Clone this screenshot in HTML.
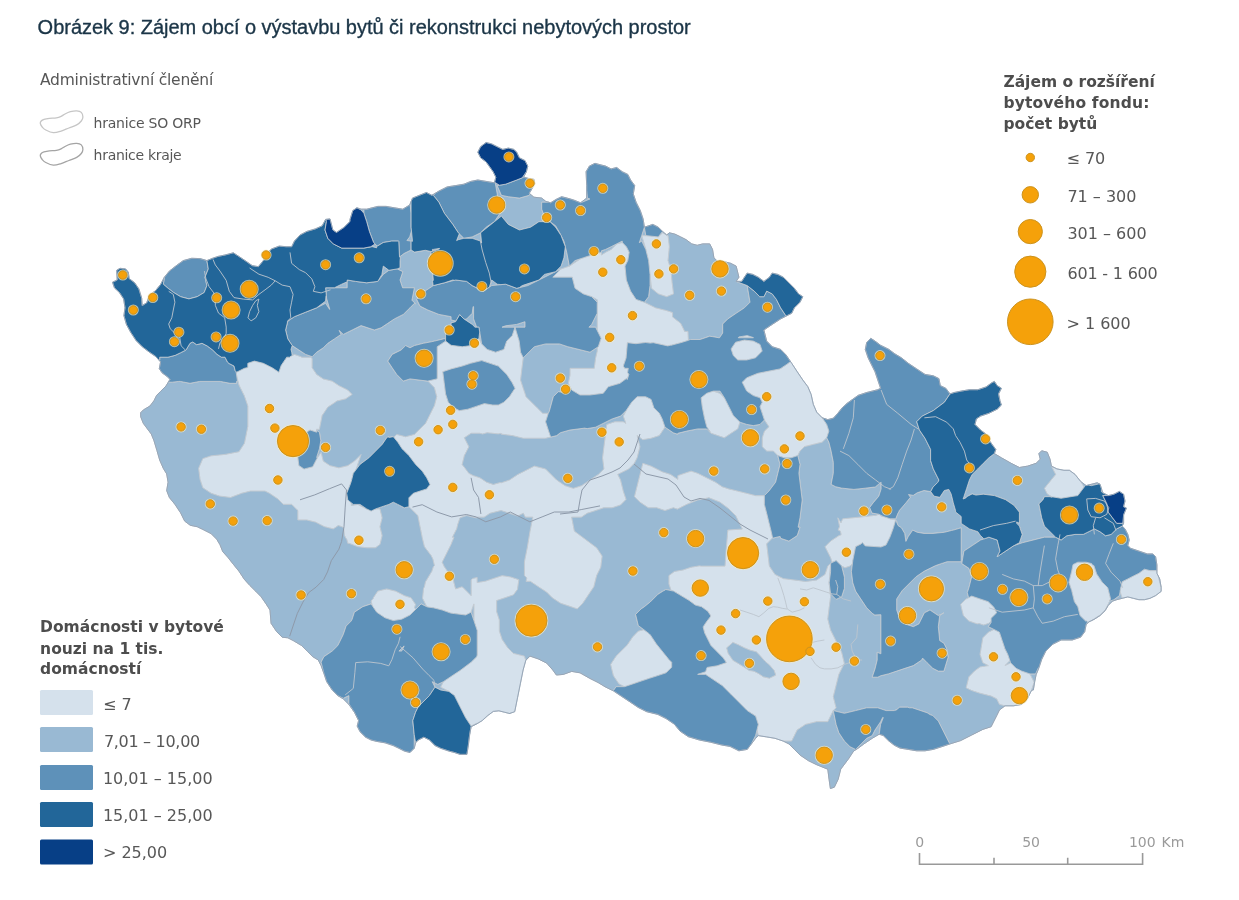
<!DOCTYPE html>
<html><head><meta charset="utf-8">
<style>
html,body{margin:0;padding:0;background:#fff;}
body{width:1239px;height:900px;position:relative;overflow:hidden;}
svg{position:absolute;left:0;top:0;}
.ti{font-family:"Liberation Sans",Arial,sans-serif;font-size:21px;fill:#1b3547;stroke:#1b3547;stroke-width:0.35px;}
.lg{font-family:"DejaVu Sans",Verdana,sans-serif;fill:#575757;}
.b{font-weight:bold;fill:#4d4d4d;}
.sc{font-family:"DejaVu Sans",Verdana,sans-serif;font-size:14px;fill:#9a9a9a;}
</style></head><body>
<svg width="1239" height="900" viewBox="0 0 1239 900">
<g id="map" stroke="#c6ccd3" stroke-width="0.9" stroke-opacity="0.9" stroke-linejoin="round">
<path d="M112.5,282.2 117.2,280.0 116.7,270.3 120.0,268.3 125.6,268.9 128.3,272.2 129.2,278.6 134.7,282.8 138.9,288.9 141.7,298.1 142.2,305.6 146.7,302.8 149.4,295.3 155.6,290.6 160.6,284.4 164.4,277.2 169.4,271.1 176.4,265.6 183.3,260.6 191.7,258.3 200.0,258.6 206.9,260.6 212.5,258.3 218.1,256.4 225.0,255.0 233.3,252.8 238.9,256.4 245.8,261.1 252.2,265.6 258.3,266.7 263.3,260.6 266.7,253.6 271.7,248.9 279.2,246.1 286.1,246.7 291.7,246.7 294.4,241.1 300.0,235.0 306.9,231.4 315.3,228.9 322.2,225.8 325.6,219.4 330.0,218.9 332.9,230.0 336.5,232.4 343.8,227.5 349.9,221.5 350.0,219.4 350.0,219.4 352.8,210.6 356.9,207.8 361.1,209.2 366.7,209.2 372.2,207.8 377.8,206.4 386.1,206.4 394.4,207.8 402.8,209.2 409.7,205.0 412.5,198.1 419.4,195.3 426.4,192.5 431.9,195.3 438.9,191.1 447.2,186.9 455.6,185.6 463.9,184.2 470.8,181.4 477.8,180.0 486.1,181.4 494.4,182.8 495.8,177.2 493.1,171.7 486.1,161.9 480.6,157.8 477.8,152.2 480.6,146.7 486.1,142.5 491.7,143.9 497.2,146.7 502.8,149.4 508.3,148.1 513.9,149.4 516.7,152.2 519.4,157.8 525.0,160.6 527.8,166.1 526.4,171.7 523.6,177.2 529.2,178.6 533.9,179.4 534.7,183.3 531.9,188.9 529.2,193.3 533.9,197.2 541.7,198.1 545.8,201.4 550.6,202.8 556.1,199.4 561.7,196.7 567.2,198.1 573.6,200.0 580.6,202.8 586.7,198.1 586.7,185.6 586.1,171.7 589.4,166.1 595.0,163.3 600.0,164.7 600.0,164.7 605.6,166.1 611.1,168.9 616.7,167.5 622.2,171.7 627.8,174.4 630.6,180.0 634.7,185.6 633.3,193.9 636.1,202.2 640.3,210.6 643.1,218.9 644.4,227.2 648.6,225.8 652.8,224.4 658.3,227.2 662.5,231.4 666.7,235.0 669.4,232.8 675.0,234.2 680.6,236.9 686.1,239.7 691.7,243.9 697.2,245.3 702.8,243.9 709.7,243.9 712.5,249.4 713.9,257.8 718.1,261.9 725.0,261.9 730.6,263.3 736.1,266.1 738.9,277.2 736.1,281.4 741.7,281.4 744.4,277.2 747.2,273.1 752.8,274.4 758.3,277.2 763.9,281.4 769.4,277.2 772.2,273.1 777.8,274.4 783.3,277.2 788.9,282.8 794.4,288.3 798.6,293.9 802.8,296.7 800.0,302.2 794.4,307.8 791.7,313.3 786.1,316.1 780.6,318.9 772.2,324.4 763.9,330.0 766.7,341.1 772.2,346.7 780.6,349.4 786.1,355.0 791.7,363.3 797.2,371.7 802.8,380.0 807.8,386.7 811.1,394.4 813.3,404.4 816.7,412.2 822.2,417.8 827.8,419.6 833.3,418.2 837.8,413.3 842.2,407.8 847.1,403.3 858.3,395.3 866.7,392.5 877.8,389.7 880.6,388.3 877.8,380.0 875.0,371.7 872.2,366.1 868.1,357.8 865.3,349.4 866.7,342.5 870.8,338.3 875.0,341.1 880.6,345.3 888.9,349.4 894.4,353.6 901.4,357.8 908.3,363.3 916.7,368.9 925.0,374.4 933.3,375.8 938.9,378.6 940.3,385.6 945.8,388.3 950.0,393.9 954.2,392.5 961.1,391.1 969.4,389.7 977.8,389.7 986.1,386.9 991.7,382.8 994.4,381.4 997.2,385.6 1001.4,388.3 998.6,393.9 1000.0,400.8 1001.4,405.0 997.2,409.2 988.9,413.3 980.6,416.1 976.4,418.9 975.0,424.4 980.6,430.0 986.1,434.2 988.9,439.7 991.7,443.9 995.8,449.4 994.4,453.6 1001.4,457.8 1011.1,463.3 1019.4,467.5 1027.8,466.1 1036.1,463.3 1040.3,459.2 1038.9,453.6 1041.7,450.8 1047.2,452.2 1050.0,459.2 1051.4,466.1 1056.9,468.9 1063.9,470.3 1069.4,470.3 1075.0,474.4 1080.6,481.4 1086.1,485.6 1091.7,484.2 1097.2,482.8 1100.0,484.2 1100.0,484.2 1102.8,492.8 1108.3,495.6 1113.9,494.2 1119.4,491.4 1123.6,494.2 1125.0,501.1 1123.6,506.7 1126.4,508.1 1123.6,515.0 1123.6,523.3 1122.2,526.1 1125.0,528.9 1127.8,534.4 1129.2,540.0 1127.8,545.6 1130.6,548.3 1138.9,551.1 1147.2,553.9 1152.8,553.9 1155.6,556.7 1156.9,565.0 1156.9,573.3 1159.7,578.9 1161.1,587.2 1161.1,591.4 1155.6,595.6 1150.0,598.3 1144.4,599.7 1138.9,599.7 1133.3,598.3 1127.8,596.9 1122.2,598.3 1116.7,599.7 1112.5,601.1 1108.3,605.3 1105.0,610.8 1100.0,615.6 1094.4,619.2 1088.9,621.9 1086.1,624.7 1084.7,631.7 1080.6,637.2 1072.2,640.0 1061.1,640.0 1052.8,644.2 1045.8,651.1 1041.7,659.4 1038.9,667.8 1036.1,674.7 1034.7,681.7 1033.3,690.0 1032.8,690.0 1031.4,690.6 1027.2,698.9 1021.7,704.4 1013.3,705.8 1005.0,705.8 999.4,710.0 996.7,715.6 993.9,721.1 991.1,726.7 982.8,729.4 971.7,735.0 960.6,740.6 950.0,743.9 950.0,743.9 941.7,746.7 933.3,749.4 925.0,750.8 916.7,750.8 908.3,749.4 900.0,748.1 894.4,745.3 888.9,741.1 883.3,735.6 879.2,734.2 872.2,738.3 863.9,743.9 858.3,748.1 853.6,751.1 848.5,758.8 840.7,769.2 838.1,779.4 834.3,787.2 830.4,788.5 829.1,779.4 827.8,769.2 816.7,764.7 808.3,760.6 800.0,755.0 794.4,749.4 788.9,743.9 783.3,741.1 775.0,738.3 766.7,736.9 758.3,735.6 755.6,738.3 747.2,749.4 738.9,750.8 730.0,746.4 730.0,746.4 721.7,745.0 710.6,742.2 699.4,740.0 688.3,736.7 680.0,731.1 674.4,724.2 666.1,718.6 657.8,714.4 646.7,711.7 638.3,707.5 630.0,701.9 621.7,696.4 613.3,690.8 605.0,686.7 598.1,682.5 589.7,678.3 580.0,672.8 571.7,671.4 563.3,674.4 556.4,675.0 552.8,670.0 546.7,663.1 538.3,658.9 530.0,656.1 525.8,660.3 523.1,670.0 520.3,683.9 517.5,697.8 514.7,711.7 510.0,713.3 510.0,713.6 504.4,712.2 498.9,710.8 493.3,711.4 487.8,715.6 482.2,720.6 476.7,723.9 471.1,726.7 469.7,734.4 468.3,745.6 466.9,754.4 460.0,754.4 454.4,752.5 448.9,751.1 440.6,748.3 435.0,745.6 429.4,740.0 423.9,737.2 418.3,740.0 415.6,742.8 414.2,748.3 410.0,752.5 404.4,751.1 398.9,748.3 393.3,745.6 385.0,742.8 376.7,741.4 371.1,740.0 365.6,737.2 360.0,731.7 357.2,726.1 358.6,720.6 354.4,712.2 348.9,704.4 343.3,698.9 337.8,695.6 332.2,690.0 326.7,681.7 323.9,673.3 321.1,665.6 318.3,660.0 312.8,656.7 307.2,651.1 301.7,645.6 293.3,640.6 287.8,637.8 282.2,637.2 276.7,631.7 271.1,623.3 270.0,610.0 270.0,610.0 266.1,603.9 261.1,596.7 255.6,591.1 250.0,585.6 244.4,579.4 238.9,571.1 233.3,564.2 227.8,557.2 222.8,551.7 220.0,544.7 216.7,539.2 211.1,533.6 202.8,529.4 197.2,526.7 190.3,525.3 184.7,521.1 180.6,512.8 175.0,504.4 169.4,497.5 166.7,490.6 168.1,482.2 166.7,473.9 163.3,468.3 159.7,460.0 156.9,450.3 154.0,440.7 151.3,434.0 147.3,428.7 143.3,423.3 140.7,416.7 140.7,412.7 143.3,410.0 150.0,406.0 154.0,400.7 156.7,395.3 160.7,391.3 166.0,386.0 170.0,379.3 167.3,376.7 162.0,372.7 159.3,368.7 160.6,361.9 155.6,356.4 149.4,352.2 142.2,346.7 136.1,340.6 130.6,332.2 126.4,324.4 123.9,315.6 125.0,307.8 123.6,298.9 119.4,292.5 114.4,287.8Z" fill="#99b9d3"/>
<path d="M1144.4,599.7 1150.0,598.3 1155.6,595.6 1161.1,591.4 1161.1,587.2 1158.9,578.9 1158.2,575.8 1156.9,573.3 1156.9,570.6 1150.0,570.6 1144.4,569.2 1138.9,573.3 1133.3,576.1 1127.8,578.9 1122.2,581.7 1120.0,591.4 1122.2,598.3 1127.8,596.9 1133.3,598.3 1138.9,599.7ZM1107.8,587.8 1102.2,582.2 1096.7,573.9 1093.9,565.6 1092.1,564.7 1091.7,563.6 1088.3,562.8 1086.1,562.2 1077.8,562.2 1073.0,564.6 1071.7,571.1 1068.9,582.2 1071.7,590.6 1074.4,601.7 1077.8,606.7 1080.0,615.6 1085.6,621.1 1086.4,620.9 1087.5,621.9 1091.7,620.6 1098.3,616.1 1099.4,615.6 1100.0,615.0 1105.0,610.0 1105.6,609.4 1109.7,601.1 1109.6,600.8 1110.6,598.9ZM1051.4,466.1 1055.6,474.4 1044.4,488.3 1047.2,493.9 1052.0,497.1 1052.8,496.9 1061.1,498.3 1069.4,496.9 1077.8,495.6 1084.0,487.2 1080.6,481.4 1075.0,474.4 1069.4,470.3 1063.9,470.3 1056.9,468.9ZM1031.4,690.6 1034.2,682.2 1030.0,673.9 1021.7,671.1 1016.1,668.3 1010.6,662.8 1005.5,665.3 1005.4,665.2 1009.9,660.7 1007.8,654.4 1005.0,648.9 1002.2,640.6 999.4,632.2 993.9,629.4 988.3,632.2 982.8,637.8 981.4,646.1 980.0,654.4 982.8,662.8 988.3,665.6 980.0,666.9 974.4,671.1 968.9,676.7 966.1,687.8 971.7,690.6 980.0,693.3 991.1,696.1 996.7,698.9 999.4,704.4 1005.0,705.8 1013.3,705.8 1021.7,704.4 1027.2,698.9ZM979.1,623.6 983.6,625.1 988.9,623.3 991.1,621.1 991.1,618.3 996.7,612.8 995.6,610.7 993.9,607.2 988.3,601.7 980.0,598.9 971.7,596.1 966.1,598.9 960.6,604.4 963.3,615.6 968.9,621.1 977.2,623.9ZM839.5,526.5 838.1,530.1 840.4,531.2 841.1,534.8 838.9,535.6 830.6,541.1 825.0,546.7 830.6,557.8 832.1,562.5 836.1,560.6 841.7,566.1 845.0,567.8 850.0,566.1 852.4,563.7 852.8,560.6 855.6,546.7 861.1,543.9 862.4,542.6 865.2,545.9 881.0,547.0 886.0,545.0 890.1,536.8 893.4,527.8 895.7,519.9 890.1,518.8 883.3,516.5 881.1,516.2 881.1,515.4 878.8,514.3 875.6,515.5 874.2,515.4 865.2,516.5 842.6,518.8 841.0,522.7 837.8,517.8ZM656.7,507.8 665.0,510.6 673.3,507.8 677.8,509.3 677.8,508.9 686.7,504.4 697.8,500.0 708.9,497.8 720.0,502.2 728.9,508.9 735.6,515.6 740.0,524.4 742.3,529.0 727.8,530.0 726.4,546.7 725.0,566.1 701.1,566.1 699.4,565.8 697.8,566.1 697.2,566.1 697.2,566.2 691.1,567.2 682.8,570.0 674.4,571.4 668.9,575.6 668.9,583.9 671.1,590.6 673.5,591.1 689.1,600.4 695.3,605.1 701.5,606.7 707.8,611.3 710.9,616.0 706.2,622.2 703.1,626.9 704.7,633.1 710.9,645.5 723.3,658.0 726.4,662.6 717.1,665.8 707.8,667.3 707.0,667.5 705.6,671.7 697.2,674.4 705.6,674.4 713.9,680.0 722.2,685.6 730.6,693.9 738.9,702.2 747.2,710.6 755.6,716.1 758.3,724.4 756.9,730.0 758.3,735.6 766.7,736.9 775.0,738.3 783.3,741.1 791.7,741.1 797.2,730.0 805.6,724.4 816.7,721.7 827.8,721.7 833.3,710.6 836.1,707.8 833.3,696.7 836.1,685.6 838.9,674.4 844.4,663.3 841.7,652.2 830.6,630.0 827.8,618.9 829.2,607.8 830.6,596.7 829.2,582.8 830.6,563.3 827.8,566.1 825.0,574.4 816.7,580.0 805.6,581.4 783.3,578.6 775.0,574.4 769.4,566.1 766.7,543.9 772.2,538.3 772.7,538.2 771.1,531.1 768.9,522.2 766.7,513.3 764.4,504.4 764.4,495.6 755.6,495.6 746.7,493.3 737.8,491.1 728.9,488.9 722.2,486.7 715.6,482.2 697.8,473.3 691.1,471.1 684.4,473.3 677.8,475.6 677.8,479.3 670.6,474.4 662.2,471.7 651.1,466.1 642.8,463.3 637.2,485.6 634.4,496.7 640.0,502.2 648.3,507.8ZM769.4,678.2 763.2,676.7 758.5,673.5 753.9,671.2 749.2,670.4 744.5,667.3 738.3,663.4 732.9,660.3 728.2,653.3 726.7,647.9 732.9,642.4 738.3,644.8 744.5,647.9 750.0,650.2 756.2,651.8 760.1,655.7 764.8,661.1 769.4,665.0 774.1,670.4 775.7,675.1ZM762.2,402.2 760.0,406.7 762.2,413.3 764.4,420.0 768.9,426.7 764.4,431.1 762.2,437.8 762.2,446.7 766.7,451.1 773.3,451.1 777.8,455.6 784.4,457.8 791.1,457.8 797.8,455.6 800.0,451.1 804.4,446.7 813.3,444.4 822.2,442.2 826.7,437.8 828.9,431.1 826.7,424.4 822.2,417.8 816.7,412.2 813.3,404.4 811.1,394.4 807.8,386.7 802.8,380.0 797.2,371.7 791.7,363.3 790.5,361.6 786.7,364.4 780.0,368.9 768.9,371.1 757.8,373.3 746.7,377.8 742.2,382.2 746.7,391.1 753.3,395.6 760.0,397.8ZM737.8,360.0 746.7,360.0 755.6,357.8 762.2,351.1 760.0,344.4 753.3,341.1 744.4,340.0 735.6,342.2 731.1,348.9 733.3,355.6ZM747.2,335.6 738.9,336.9 738.2,337.8 753.9,337.8ZM706.7,426.7 711.1,433.3 717.8,435.6 724.4,437.8 731.1,433.3 737.8,428.9 740.0,422.2 733.3,415.6 728.9,406.7 724.4,397.8 720.0,393.3 713.3,391.1 706.7,393.3 701.1,397.8 702.2,406.7 704.4,417.8ZM636.1,299.4 630.6,291.1 626.4,280.0 625.0,266.1 627.8,260.6 629.2,252.2 626.4,246.7 622.2,242.5 616.7,243.9 611.1,249.4 605.6,252.2 601.4,255.0 601.4,252.2 591.7,255.0 583.3,257.8 580.6,258.7 577.8,260.6 569.4,266.1 561.1,268.9 552.8,277.2 572.2,277.2 575.0,288.3 583.3,293.9 591.7,296.7 597.2,299.8 597.2,330.6 601.1,338.3 598.3,346.7 597.2,347.4 597.2,351.1 595.6,357.8 594.2,368.3 570.0,368.3 570.0,375.0 568.3,383.3 571.7,390.0 580.0,395.0 590.0,395.0 603.3,393.3 608.3,386.7 620.0,383.3 626.7,378.3 627.2,379.6 628.9,374.4 627.6,372.6 628.3,368.3 624.8,368.3 623.3,366.1 626.1,358.0 627.4,342.7 635.8,343.7 645.6,342.5 650.1,343.1 653.3,342.7 667.8,345.9 671.0,345.1 671.0,345.3 680.7,342.7 688.5,340.3 688.0,331.4 684.7,331.4 682.6,327.1 680.7,323.3 672.6,316.9 672.6,312.5 666.7,310.6 655.6,307.8 644.4,302.2ZM666.3,234.7 662.5,232.8 658.3,236.9 645.8,235.6 641.7,235.6 645.8,249.4 648.6,260.6 651.4,288.3 658.3,293.9 666.7,296.7 673.6,293.9 672.2,282.8 670.8,268.9 668.1,260.6 669.4,246.7 668.1,235.6 666.8,234.9 666.7,235.0ZM616.1,656.1 610.6,664.4 613.3,675.6 618.9,683.9 624.4,686.7 632.8,683.9 641.1,681.1 649.4,678.3 657.8,675.6 666.1,672.8 671.7,667.2 671.7,662.3 668.9,659.5 656.4,644.0 650.2,634.7 649.4,633.9 643.9,629.7 638.3,631.1 632.8,636.7 627.2,645.0ZM475.6,517.7 477.2,518.0 477.2,517.2 484.2,517.2 490.0,513.3 501.1,510.6 509.4,513.3 517.8,516.1 523.3,513.3 525.3,517.2 532.8,517.2 530.1,530.6 530.0,531.1 527.2,547.8 524.4,561.7 524.4,575.6 526.8,577.9 526.1,581.4 530.4,581.4 538.3,586.7 546.7,592.2 552.2,597.8 560.6,603.3 568.9,606.1 577.2,608.9 582.8,603.3 593.9,586.7 596.7,575.6 600.8,567.2 602.2,556.1 596.7,547.8 574.4,531.1 572.8,522.9 571.7,517.2 581.4,517.2 587.2,513.3 595.6,510.6 603.9,507.8 612.2,507.8 620.6,505.0 626.1,499.4 623.3,491.1 620.6,480.0 617.8,474.4 623.3,471.7 628.9,468.9 634.4,463.3 637.2,457.8 640.0,446.7 637.2,435.6 642.8,439.7 651.1,438.3 659.4,435.6 665.0,427.2 662.2,418.9 659.4,413.3 653.9,407.8 651.1,399.4 645.6,396.7 637.2,396.7 631.7,402.2 626.1,410.6 623.3,416.1 625.7,423.3 623.3,421.7 615.0,421.7 606.7,424.4 605.3,435.6 603.9,446.7 602.5,457.8 603.9,468.9 598.3,474.4 581.7,485.6 573.3,488.3 565.0,485.6 556.7,480.0 545.6,468.9 534.4,466.1 517.8,474.4 509.4,480.0 501.1,482.8 500.2,482.5 493.3,484.4 486.7,482.2 480.0,477.8 473.3,475.6 468.9,473.3 466.1,469.6 462.2,464.4 464.4,455.6 468.9,446.7 464.4,437.8 471.1,433.3 480.0,433.3 482.5,434.0 487.2,432.8 498.2,433.9 501.1,433.3 501.1,434.2 512.2,435.6 523.3,438.3 545.6,438.3 550.7,437.1 548.3,430.0 545.6,421.7 548.3,413.3 542.8,413.3 537.2,407.8 526.1,396.7 523.3,388.3 520.6,380.0 521.9,368.9 523.3,357.8 520.6,352.2 519.2,341.1 515.0,327.2 512.2,335.6 506.7,341.1 503.9,349.4 495.6,352.2 487.2,349.4 481.7,343.9 478.9,338.3 473.3,345.3 462.2,346.7 451.1,345.3 445.6,341.1 437.2,346.7 437.2,378.3 436.7,378.9 427.8,381.1 434.4,387.8 436.7,396.7 434.4,405.6 425.6,423.3 414.4,434.4 405.6,436.7 396.7,434.4 393.8,437.3 397.8,442.2 402.2,448.9 403.9,450.6 408.9,455.6 415.6,464.4 422.2,471.1 426.7,477.8 430.0,484.4 428.1,486.9 426.7,488.9 420.0,491.1 413.3,493.3 408.9,497.8 408.9,506.7 417.8,515.6 420.0,526.7 422.1,537.2 422.2,537.8 424.4,546.7 431.1,555.6 432.8,558.9 434.4,565.6 433.3,566.7 431.8,571.2 425.4,581.9 424.4,586.7 423.5,588.6 422.5,598.3 426.7,606.7 428.0,607.1 433.3,607.8 442.2,610.0 450.6,613.1 454.4,613.6 465.6,615.0 471.1,612.2 473.7,604.4 473.9,604.4 473.9,620.6 476.7,628.9 477.2,630.6 477.2,655.0 476.7,656.7 471.1,662.2 460.0,670.6 451.7,676.1 443.3,681.7 440.6,687.2 448.9,691.4 454.4,695.6 460.0,706.7 465.6,717.8 471.1,726.1 477.2,723.1 477.2,723.6 482.2,720.6 487.8,715.0 488.6,714.4 489.7,714.1 493.3,711.4 498.9,710.8 504.4,712.2 510.0,713.6 510.0,713.3 514.7,711.7 517.5,697.8 520.3,683.9 523.1,670.0 525.8,660.3 524.4,656.1 513.3,653.3 511.4,651.4 507.8,647.8 502.2,639.4 499.4,631.1 499.4,620.0 496.7,611.7 496.7,600.6 505.0,597.8 511.4,595.6 513.3,595.0 517.5,589.4 518.9,579.7 510.6,576.9 502.2,575.6 493.9,578.3 485.6,581.1 477.2,582.5 477.2,577.4 472.6,578.5 471.1,580.0 471.1,595.6 462.8,587.2 461.9,586.8 455.6,588.9 453.3,580.0 448.9,573.3 444.4,566.7 442.2,562.2 451.1,544.4 454.0,537.2 452.5,537.2 453.3,535.6 456.7,528.9 457.8,524.4 460.0,517.8 466.7,515.6 475.6,517.8ZM498.3,366.1 506.7,374.4 512.2,382.8 515.0,388.3 509.4,396.7 503.9,402.2 498.3,405.0 492.8,405.0 484.4,403.6 476.1,406.4 467.8,409.2 459.4,410.6 453.9,407.8 448.3,402.2 445.6,393.9 444.2,382.8 442.8,371.7 451.1,368.9 462.2,366.1 470.6,363.3 481.7,360.6ZM401.7,619.2 410.0,615.0 415.6,609.4 414.6,607.4 415.6,604.4 411.1,597.8 404.4,595.6 395.6,591.1 386.7,588.9 377.8,591.1 373.3,597.8 373.4,598.2 371.1,601.1 372.2,605.6 376.7,612.2 385.0,617.8 393.3,620.6ZM219.4,496.1 230.6,497.5 241.7,493.3 250.6,491.1 265.0,491.1 269.4,493.3 277.8,498.9 283.3,504.4 291.7,504.4 297.2,510.0 297.8,510.6 297.8,520.0 306.7,520.0 315.6,522.2 324.4,526.7 333.3,528.9 338.3,525.6 341.7,526.7 343.4,527.6 344.4,535.6 346.8,539.7 347.9,543.6 348.9,543.3 357.8,546.7 366.7,547.8 375.6,547.8 377.8,546.1 378.8,545.3 379.8,544.6 380.0,544.4 380.6,542.2 381.8,537.2 382.2,535.6 380.0,526.7 382.2,517.8 380.0,508.9 375.6,508.9 371.1,511.1 366.7,508.9 357.8,504.4 351.4,505.5 351.4,502.9 347.8,500.0 346.7,493.3 350.0,485.0 351.3,481.3 353.3,473.3 355.7,470.2 356.7,467.8 361.1,454.4 354.4,461.1 347.8,465.6 338.9,467.8 330.0,465.6 323.3,461.1 321.1,452.2 316.7,458.9 312.7,466.8 304.4,468.9 304.1,469.0 303.9,468.9 303.2,468.4 298.9,465.6 297.8,456.7 303.3,450.0 306.7,443.3 303.3,434.4 310.0,430.0 316.7,432.2 316.7,429.4 319.4,429.4 322.2,415.6 327.8,407.2 336.1,401.7 336.7,401.1 345.6,398.9 352.2,394.4 347.8,390.0 338.9,385.6 332.2,381.1 323.3,378.9 316.7,374.4 312.2,367.8 312.2,358.7 311.1,357.2 301.9,357.2 301.1,356.7 294.4,354.4 290.0,356.7 289.6,357.2 286.7,357.2 285.6,358.9 281.1,365.6 278.9,372.2 272.2,367.8 263.3,363.3 254.4,361.1 247.8,363.3 247.8,367.5 244.4,368.3 236.2,372.4 236.4,374.0 238.9,385.0 244.4,396.1 247.8,406.1 247.8,426.1 247.2,429.4 244.4,443.3 238.9,451.7 225.0,454.4 211.1,455.8 202.8,458.6 198.6,468.3 200.0,479.4 202.8,487.8 211.1,493.3Z" fill="#d5e1ec"/>
<path d="M1161.1,587.2 1159.7,578.9 1158.2,575.8 1158.9,578.9ZM1094.4,619.2 1100.0,615.6 1105.0,610.8 1108.3,605.3 1112.5,601.1 1116.7,599.7 1122.2,598.3 1120.1,591.7 1119.4,595.6 1113.9,599.7 1109.7,601.1 1105.6,609.4 1105.0,610.0 1100.0,615.0 1099.4,615.6 1098.3,616.1 1091.7,620.6 1093.4,619.7ZM1097.2,482.8 1091.7,484.2 1088.3,485.0 1091.3,485.7 1091.7,485.6 1099.3,483.8ZM1051.5,497.2 1052.0,497.1 1047.2,493.9 1044.4,488.3 1055.6,474.4 1051.4,466.1 1050.0,459.2 1047.2,452.2 1041.7,450.8 1038.9,453.6 1040.3,459.2 1036.1,463.3 1027.8,466.1 1019.4,467.5 1011.1,463.3 1001.4,457.8 994.4,453.6 988.9,457.8 983.3,463.3 977.8,468.9 972.2,474.4 969.4,480.0 966.7,488.3 963.9,496.7 963.1,499.0 965.8,498.0 966.7,496.7 972.2,493.9 975.9,495.1 983.3,494.2 994.4,495.6 1005.6,499.7 1013.9,505.3 1019.4,512.2 1019.4,523.3 1016.7,521.9 1016.7,523.3 1019.4,526.1 1022.2,534.4 1019.4,542.8 1015.4,544.8 1015.3,545.1 1022.2,542.8 1044.4,537.2 1055.6,537.2 1044.4,526.1 1041.7,517.8 1040.3,510.8 1038.9,503.9 1042.8,500.0 1044.4,496.7 1050.0,496.7ZM1030.0,673.9 1034.2,682.2 1031.4,690.6 1032.8,690.0 1033.3,690.0 1034.7,681.7 1036.1,674.7 1038.9,667.8 1038.2,668.1 1035.6,673.9ZM1009.9,660.7 1005.0,665.6 1010.6,662.8ZM798.9,473.3 801.1,491.1 802.2,500.0 800.0,517.8 798.1,527.2 800.0,527.2 797.2,535.6 788.9,541.1 780.6,538.3 780.1,536.4 772.2,538.3 766.7,543.9 769.4,566.1 775.0,574.4 783.3,578.6 805.6,581.4 816.7,580.0 825.0,574.4 827.8,566.1 830.6,563.3 832.1,562.5 830.6,557.8 825.0,546.7 830.6,541.1 838.9,535.6 841.1,534.8 840.4,531.2 838.1,530.1 839.5,526.5 837.8,517.8 837.8,517.8 841.0,522.7 842.6,518.8 865.2,516.5 874.2,515.4 875.6,515.5 878.8,514.3 878.8,514.2 872.0,513.1 869.7,507.5 873.1,502.9 878.8,496.2 881.0,489.4 884.9,488.7 883.3,488.3 881.1,488.6 881.1,482.2 875.6,486.7 875.0,487.2 874.2,487.1 865.2,488.2 853.9,489.4 842.6,488.2 841.4,488.1 835.6,486.7 831.1,484.4 833.3,473.3 833.3,462.2 831.1,451.1 828.9,442.2 826.7,437.8 822.2,442.2 813.3,444.4 804.4,446.7 800.0,451.1 797.8,455.6 800.0,464.4ZM829.0,581.2 829.2,582.8 830.6,571.7 830.6,563.3 829.3,581.2ZM829.3,584.4 830.6,596.7 829.2,607.8 827.8,618.9 830.6,630.0 841.7,652.2 844.4,663.3 838.9,674.4 836.1,685.6 833.3,696.7 836.1,707.8 833.3,710.6 844.4,713.3 855.6,710.6 866.7,707.8 877.8,707.8 886.1,710.6 894.4,710.6 896.9,709.7 899.4,707.2 907.8,707.2 909.4,707.8 912.2,707.8 918.9,710.0 927.2,712.8 930.0,714.6 932.8,715.6 938.3,721.1 943.9,732.2 949.0,742.4 950.0,743.9 951.4,743.5 960.6,740.6 971.7,735.0 982.8,729.4 991.1,726.7 993.9,721.1 996.7,715.6 999.4,710.0 1005.0,705.8 999.4,704.4 996.7,698.9 991.1,696.1 980.0,693.3 971.7,690.6 966.1,687.8 968.9,676.7 974.4,671.1 980.0,666.9 988.3,665.6 982.8,662.8 980.0,654.4 981.4,646.1 982.8,637.8 988.3,632.2 993.9,629.4 988.3,626.7 991.1,622.5 991.1,621.1 988.9,623.3 983.6,625.1 979.1,623.6 977.2,623.9 968.9,621.1 963.3,615.6 960.6,604.4 966.1,598.9 968.6,597.7 967.3,592.5 968.9,587.8 971.7,576.7 968.9,568.3 961.8,563.6 963.9,551.1 972.2,545.6 980.6,540.0 983.9,538.9 980.9,535.9 980.6,535.8 977.8,531.7 969.4,528.9 961.2,523.4 961.2,516.5 955.6,511.9 955.6,510.7 953.3,502.9 952.4,499.0 951.1,493.9 948.8,489.4 944.3,490.5 939.8,497.3 934.1,496.2 930.7,491.6 924.0,490.5 917.2,492.8 913.2,495.4 908.5,494.5 910.4,497.3 905.9,502.9 899.1,510.8 898.8,512.0 898.0,513.1 895.7,518.8 890.1,518.8 895.7,519.9 896.4,521.7 897.2,521.7 896.9,522.9 898.0,525.5 901.4,527.8 904.7,533.4 905.9,541.4 908.1,536.8 912.7,530.1 917.2,532.3 924.0,533.4 933.0,533.4 944.3,532.3 951.4,530.5 953.3,530.1 961.2,527.8 961.2,561.7 947.1,561.7 943.9,562.8 942.2,563.3 941.7,563.3 941.1,563.7 935.6,565.6 924.4,571.1 916.1,576.7 902.2,590.6 896.7,598.9 896.7,610.0 898.6,615.7 899.4,618.3 905.0,623.9 913.3,626.7 918.9,623.9 924.4,612.8 929.6,610.2 930.0,610.0 930.7,610.5 938.3,615.6 939.8,614.8 938.3,626.7 939.7,640.6 943.9,643.3 946.7,648.9 947.2,652.2 948.1,657.2 943.9,671.1 938.3,671.1 932.8,668.3 930.3,665.8 927.2,662.8 922.6,658.1 921.7,660.0 913.3,665.6 905.0,668.3 896.7,671.1 888.3,673.9 880.6,675.8 877.8,677.2 872.2,677.2 875.0,668.9 877.2,660.0 877.2,652.3 880.9,653.8 880.9,614.7 874.8,615.0 872.2,613.3 866.7,607.8 855.6,591.1 852.8,582.8 851.4,571.7 852.4,563.7 850.0,566.1 845.0,567.8 841.7,566.1 842.3,568.7 844.4,577.2 844.4,588.3 841.7,596.7 836.1,599.4 830.6,593.9 829.2,582.8 829.1,584.4ZM816.7,721.7 805.6,724.4 797.2,730.0 791.7,741.1 783.3,741.1 788.9,743.9 794.4,749.4 800.0,755.0 808.3,760.6 814.4,763.6 816.7,764.7 827.8,769.2 829.1,779.4 830.4,788.5 834.3,787.2 838.1,779.4 840.5,770.1 840.7,769.2 848.5,758.8 853.6,751.1 858.3,748.1 863.9,743.9 872.2,738.3 879.2,734.2 880.6,724.4 886.1,710.6 880.6,721.7 875.0,730.0 872.2,735.6 866.7,738.3 855.6,749.4 850.0,746.7 844.4,741.1 838.9,732.8 836.1,724.4 833.3,710.6 827.8,721.7ZM460.0,517.8 457.8,524.4 456.7,528.9 453.3,535.6 452.5,537.2 454.0,537.2 451.1,544.4 442.2,562.2 444.4,566.7 448.9,573.3 453.3,580.0 455.6,588.9 461.9,586.8 462.8,587.2 471.1,595.6 471.1,580.0 472.6,578.5 477.2,577.4 477.2,582.5 485.6,581.1 493.9,578.3 502.2,575.6 510.6,576.9 518.9,579.7 517.5,589.4 513.3,595.0 511.4,595.6 505.0,597.8 496.7,600.6 496.7,611.7 499.4,620.0 499.4,631.1 502.2,639.4 507.8,647.8 511.4,651.4 513.3,653.3 524.4,656.1 525.8,660.3 530.0,656.1 538.3,658.9 546.7,663.1 552.8,670.0 556.4,675.0 563.3,674.4 571.7,671.4 580.0,672.8 589.7,678.3 598.1,682.5 605.0,686.7 613.3,690.8 616.1,686.7 624.4,686.7 618.9,683.9 613.3,675.6 610.6,664.4 616.1,656.1 627.2,645.0 632.8,636.7 638.3,631.1 643.9,629.7 638.3,625.6 635.6,614.4 641.1,608.9 644.0,607.0 650.2,602.0 658.0,594.2 662.1,591.7 663.3,590.8 663.6,590.9 665.8,589.5 671.1,590.6 668.9,583.9 668.9,575.6 674.4,571.4 682.8,570.0 691.1,567.2 697.2,566.2 697.2,566.1 697.8,566.1 699.4,565.8 701.1,566.1 725.0,566.1 726.4,546.7 727.8,530.0 742.3,529.0 740.0,524.4 735.6,515.6 728.9,508.9 720.0,502.2 708.9,497.8 697.8,500.0 686.7,504.4 677.8,508.9 677.8,509.3 673.3,507.8 665.0,510.6 656.7,507.8 648.3,507.8 640.0,502.2 634.4,496.7 637.2,485.6 642.8,463.3 651.1,466.1 662.2,471.7 670.6,474.4 677.8,479.3 677.8,475.6 684.4,473.3 691.1,471.1 697.8,473.3 715.6,482.2 722.2,486.7 728.9,488.9 737.8,491.1 746.7,493.3 755.6,495.6 764.4,495.6 768.9,491.1 775.6,482.2 777.8,473.3 780.0,464.4 777.8,455.6 773.3,451.1 766.7,451.1 762.2,446.7 762.2,437.8 764.4,431.1 768.9,426.7 764.4,420.0 760.0,424.4 753.3,425.6 746.7,424.4 740.0,422.2 737.8,428.9 731.1,433.3 724.4,437.8 717.8,435.6 711.1,433.3 706.7,428.9 697.8,428.9 686.7,431.1 677.8,433.3 677.8,434.3 673.3,432.8 665.0,427.2 659.4,435.6 651.1,438.3 642.8,439.7 637.2,435.6 640.0,446.7 637.2,457.8 634.4,463.3 628.9,468.9 623.3,471.7 617.8,474.4 620.6,480.0 623.3,491.1 626.1,499.4 620.6,505.0 612.2,507.8 603.9,507.8 595.6,510.6 587.2,513.3 581.4,517.2 571.7,517.2 572.8,522.9 574.4,531.1 596.7,547.8 602.2,556.1 600.8,567.2 596.7,575.6 593.9,586.7 582.8,603.3 577.2,608.9 568.9,606.1 560.6,603.3 552.2,597.8 546.7,592.2 538.3,586.7 530.4,581.4 526.1,581.4 526.8,577.9 524.4,575.6 524.4,561.7 527.2,547.8 530.0,531.1 530.1,530.6 532.8,517.2 525.3,517.2 523.3,513.3 517.8,516.1 509.4,513.3 501.1,510.6 490.0,513.3 484.2,517.2 477.2,517.2 477.2,518.0 475.6,517.7 475.6,517.8 466.7,515.6ZM758.5,673.5 763.2,676.7 769.4,678.2 775.7,675.1 774.1,670.4 769.4,665.0 764.8,661.1 760.1,655.7 756.2,651.8 750.0,650.2 744.5,647.9 738.3,644.8 732.9,642.4 726.7,647.9 728.2,653.3 732.9,660.3 738.3,663.4 744.5,667.3 749.2,670.4 753.9,671.2ZM758.3,735.6 756.9,730.0 755.6,735.6 751.4,743.9 755.6,738.3ZM648.6,296.7 644.4,302.2 655.6,307.8 666.7,310.6 672.6,312.5 672.6,316.9 680.7,323.3 682.6,327.1 682.6,327.2 682.7,327.2 684.7,331.4 688.0,331.4 688.4,340.1 690.4,339.5 700.1,339.5 709.8,336.2 710.0,336.3 712.9,336.7 719.1,337.8 719.5,337.8 719.5,337.8 720.2,336.8 722.7,333.0 722.7,324.0 727.8,318.9 736.1,313.3 744.4,307.8 750.0,302.2 747.2,285.6 736.1,281.4 738.9,277.2 736.1,266.1 730.6,263.3 725.0,261.9 718.1,261.9 713.9,257.8 712.5,249.4 709.7,243.9 702.8,243.9 697.2,245.3 691.7,243.9 686.1,239.7 680.6,236.9 675.0,234.2 669.4,232.8 666.7,235.0 666.7,235.0 666.8,234.9 668.1,235.6 669.4,246.7 668.1,260.6 670.8,268.9 672.2,282.8 673.6,293.9 666.7,296.7 658.3,293.9 651.4,288.3 650.0,274.4 650.0,285.6ZM658.3,236.9 662.5,232.8 666.2,234.6 666.3,234.7 662.5,231.4ZM724.4,397.8 720.0,391.1 713.3,391.1 720.0,393.3ZM641.7,241.1 645.8,249.4 641.7,235.6 641.5,236.1 639.3,242.7ZM644.4,227.2 642.1,234.3 641.7,235.6 645.8,235.6ZM601.4,255.0 605.6,252.2 611.1,249.4 616.7,243.9 614.9,244.8 605.6,249.4 601.4,250.8ZM622.6,242.8 622.2,241.1 618.4,243.0 616.7,243.9 622.2,242.5ZM466.1,469.6 468.9,473.3 473.3,475.6 480.0,477.8 486.7,482.2 493.3,484.4 500.2,482.5 501.1,482.8 509.4,480.0 517.8,474.4 523.3,471.7 534.4,466.1 545.6,468.9 556.7,480.0 565.0,485.6 573.3,488.3 581.7,485.6 598.3,474.4 603.9,468.9 602.5,457.8 603.9,446.7 605.3,435.6 606.7,424.4 615.0,421.7 623.3,421.7 625.7,423.3 623.3,416.1 626.1,410.6 620.6,416.1 612.2,418.9 595.6,427.2 587.2,428.6 584.2,428.1 583.3,428.3 570.0,430.0 560.4,432.7 556.7,435.6 545.6,438.3 523.3,438.3 512.2,435.6 501.1,434.2 501.1,433.3 498.2,433.9 487.2,432.8 482.5,434.0 480.0,433.3 471.1,433.3 464.4,437.8 468.9,446.7 464.4,455.6 462.2,464.4ZM591.7,324.4 588.9,327.2 595.6,327.2 597.2,330.6 597.2,313.3ZM597.2,299.8 591.7,296.7 597.2,302.2ZM597.2,201.7 597.2,201.4 594.4,200.8 587.5,198.1 586.7,190.6 586.7,198.1 580.6,202.8 588.9,199.4ZM542.8,413.3 548.3,413.3 549.2,411.7 553.3,396.7 558.3,391.7 563.8,392.4 567.8,391.1 570.7,388.1 568.3,383.3 570.0,375.0 570.0,368.3 594.2,368.3 595.6,357.8 597.2,351.1 597.2,347.4 590.0,352.2 567.8,346.7 559.4,343.9 545.6,343.9 534.4,346.7 530.2,350.9 528.9,352.2 523.3,357.8 521.9,368.9 520.6,380.0 523.3,388.3 526.1,396.7 537.2,407.8ZM463.9,238.3 459.3,233.8 456.9,239.7 450.0,243.9 458.3,239.7ZM480.6,241.1 481.7,244.1 480.6,232.8 472.2,236.9 463.9,238.3 472.2,238.3ZM494.4,221.7 486.1,227.2 480.6,232.8 492.9,222.9ZM501.4,216.1 508.3,224.4 519.4,230.0 530.6,227.2 538.9,221.7 550.0,221.7 544.4,216.1 541.7,209.2 541.7,202.2 548.7,202.2 545.8,201.4 541.7,198.1 533.9,197.2 529.9,193.9 529.9,193.9 529.9,193.9 529.2,195.3 519.4,198.1 508.3,196.7 501.4,195.3 497.2,185.6 499.4,185.2 495.2,182.5 497.2,193.9 498.6,202.2 500.0,213.3 494.4,221.7 495.8,220.5ZM561.1,235.6 560.2,233.8 559.7,232.8 555.6,225.8 550.0,221.7 555.6,227.2ZM564.8,244.8 563.9,241.1 562.0,237.3 561.1,235.6 565.3,246.7ZM561.1,266.1 555.6,271.7 557.3,270.8 561.1,268.9 569.4,266.1 566.7,252.2 565.8,248.6 565.3,246.7 563.9,257.8ZM580.6,258.7 575.0,260.6 569.4,266.1 577.8,260.6ZM538.9,280.0 540.7,279.1 550.0,274.4 553.8,272.5 555.6,271.7 555.6,271.7 544.4,274.4ZM519.4,287.6 527.8,285.6 537.1,280.9 538.9,280.0 522.2,285.6ZM526.4,171.7 522.2,177.8 523.6,177.2ZM525.0,321.7 516.7,324.4 505.6,325.8 501.9,327.2 525.0,327.2ZM489.3,287.1 491.7,285.6 500.9,284.6 497.2,284.2 491.7,280.0ZM476.7,723.9 477.2,723.6 477.2,723.1 476.7,723.3 471.1,726.1 469.7,734.4 471.1,726.7ZM479.2,338.3 479.0,338.6 481.7,343.9 479.7,332.0 479.0,337.4ZM475.0,327.2 476.7,327.2 473.6,318.9 473.6,302.2 472.2,313.3 466.7,318.9 464.8,319.5 472.2,324.4ZM473.9,603.9 471.1,612.2 473.9,620.6ZM334.4,338.9 327.8,343.3 323.3,347.8 316.7,352.2 312.2,356.7 305.6,354.4 298.9,350.0 292.2,345.6 291.0,349.4 291.7,352.2 292.2,355.6 294.4,354.4 301.1,356.7 301.9,357.2 311.1,357.2 312.2,358.7 312.2,367.8 316.7,374.4 323.3,378.9 332.2,381.1 338.9,385.6 347.8,390.0 352.2,394.4 345.6,398.9 336.7,401.1 336.1,401.7 327.8,407.2 322.2,415.6 319.4,429.4 316.7,429.4 316.7,430.4 319.4,432.2 320.8,440.6 319.4,448.9 316.7,457.2 317.1,458.2 321.1,452.2 323.3,461.1 330.0,465.6 338.9,467.8 347.8,465.6 354.4,461.1 361.1,454.4 356.7,467.8 355.7,470.2 360.0,464.4 368.9,457.8 382.2,444.4 386.7,437.8 387.1,437.7 387.8,436.7 389.2,437.4 393.3,436.7 393.8,437.3 396.7,434.4 405.6,436.7 414.4,434.4 425.6,423.3 434.4,405.6 436.7,396.7 434.4,387.8 427.8,381.1 418.9,380.0 410.0,378.9 403.3,381.1 396.7,374.4 392.2,367.8 388.9,362.8 387.8,361.1 392.2,354.4 401.1,350.0 405.6,345.6 410.0,347.8 414.4,345.6 423.3,343.3 431.2,341.8 434.4,341.1 443.3,338.9 445.6,338.6 445.6,327.2 451.1,327.2 451.1,322.9 455.6,321.7 455.9,321.1 451.1,319.9 451.1,316.7 438.9,314.4 427.8,310.0 420.0,306.1 416.7,299.4 425.0,291.1 433.2,285.7 432.6,281.5 433.3,280.0 431.9,263.3 430.8,252.1 431.9,251.7 432.0,251.7 425.3,250.3 414.6,252.1 411.1,250.0 404.0,253.5 400.5,256.3 400.0,260.6 400.0,267.8 397.2,268.9 402.8,271.7 400.0,280.0 402.6,287.8 414.4,287.8 412.2,298.9 411.9,300.2 414.7,303.1 410.0,307.8 403.3,314.4 394.4,318.9 387.8,323.3 381.1,327.8 374.4,330.0 373.9,329.8 367.8,327.8 361.1,325.6 352.2,330.0 343.3,334.4 338.9,330.0 341.1,334.4ZM441.7,248.1 433.3,249.4 432.4,249.4 432.4,251.5 433.3,251.2ZM452.8,280.0 444.4,282.8 454.4,280.3ZM440.6,690.0 448.9,691.4 440.6,687.2 443.3,681.7 437.8,684.4 432.2,681.7 435.0,687.2ZM160.7,391.3 156.7,395.3 154.0,400.7 150.0,406.0 143.3,410.0 140.7,412.7 140.7,416.7 143.3,423.3 147.3,428.7 151.3,434.0 154.0,440.7 156.9,450.3 159.7,460.0 163.3,468.3 166.7,473.9 168.1,482.2 166.7,490.6 169.4,497.5 175.0,504.4 180.6,512.8 184.7,521.1 190.3,525.3 197.2,526.7 202.8,529.4 211.1,533.6 216.7,539.2 220.0,544.7 222.8,551.7 227.8,557.2 233.3,564.2 238.9,571.1 244.4,579.4 250.0,585.6 255.6,591.1 261.1,596.7 266.1,603.9 270.0,610.0 271.1,623.3 276.7,631.7 282.2,637.2 287.8,637.8 293.3,640.6 301.7,645.6 307.2,651.1 312.8,656.7 318.3,660.0 321.1,665.6 323.9,673.3 321.1,662.2 323.9,656.7 332.2,651.1 337.8,645.6 343.3,634.4 346.1,626.1 351.1,621.1 352.0,619.6 354.4,612.2 362.8,606.7 371.1,603.9 372.2,605.6 371.1,601.1 373.4,598.2 373.3,597.8 377.8,591.1 386.7,588.9 395.6,591.1 404.4,595.6 411.1,597.8 415.6,604.4 414.6,607.4 415.6,609.4 421.1,603.9 426.7,606.7 422.5,598.3 423.5,588.6 424.4,586.7 425.4,581.9 431.8,571.3 433.3,566.7 434.4,565.6 432.8,558.9 431.1,555.6 424.4,546.7 422.2,537.8 422.1,537.2 420.0,526.7 417.8,515.6 408.9,506.7 404.4,507.8 397.8,504.4 393.3,502.2 388.9,504.4 375.6,508.9 380.0,508.9 382.2,517.8 380.0,526.7 382.2,535.6 381.8,537.2 380.6,542.2 380.0,544.4 379.8,544.6 378.8,545.3 377.8,546.1 375.6,547.8 366.7,547.8 357.8,546.7 348.9,543.3 347.9,543.6 346.8,539.7 344.4,535.6 343.4,527.6 341.7,526.7 338.3,525.6 333.3,528.9 324.4,526.7 315.6,522.2 306.7,520.0 297.8,520.0 297.8,510.6 297.2,510.0 291.7,504.4 283.3,504.4 277.8,498.9 269.4,493.3 265.0,491.1 250.6,491.1 241.7,493.3 230.6,497.5 219.4,496.1 211.1,493.3 202.8,487.8 200.0,479.4 198.6,468.3 202.8,458.6 211.1,455.8 225.0,454.4 238.9,451.7 244.4,443.3 247.2,429.4 247.8,426.1 247.8,406.1 244.4,396.1 238.9,385.0 238.1,381.4 237.5,381.4 236.5,381.4 236.7,383.3 230.0,383.3 223.3,382.0 220.2,381.4 199.8,381.4 196.7,382.0 190.0,383.3 183.3,382.0 180.2,381.4 178.9,381.4 172.2,382.2 168.3,382.2 166.0,386.0ZM415.6,742.8 414.2,734.4 414.2,748.3ZM412.7,241.4 412.5,241.1 411.5,230.8 409.7,236.9 406.9,240.5 411.1,241.1ZM411.1,213.3 411.1,201.5 410.0,204.3 410.0,204.3 409.9,204.4 409.7,205.0 409.7,205.0 410.1,205.0ZM398.9,651.1 401.7,651.1 404.4,645.6ZM388.9,270.3 383.3,266.1 381.9,274.4 377.8,281.4 383.3,274.4ZM376.7,247.8 376.4,246.7 377.3,246.1 375.0,243.9 370.8,246.7 363.9,248.1 372.2,246.7ZM351.4,505.5 357.8,504.4 353.3,504.4 351.4,502.9ZM360.0,504.4 357.8,504.4 366.7,508.9ZM363.9,213.3 363.9,209.2 361.1,209.2 356.9,207.8 361.1,210.0ZM348.9,704.4 354.4,712.2 348.9,703.9 348.9,695.6 343.3,698.3 337.8,695.6 343.3,698.9ZM334.4,287.8 347.2,287.8 347.2,281.8 341.7,284.2ZM330.0,310.0 326.7,298.9 326.3,295.4 326.0,295.7 325.6,301.1 316.7,307.8 325.6,303.3Z" fill="#99b9d3"/>
<path d="M996.7,612.8 991.1,618.3 991.1,622.5 988.3,626.7 993.9,629.4 999.4,632.2 1002.2,640.6 1005.0,648.9 1007.8,654.4 1010.6,662.8 1016.1,668.3 1021.7,671.1 1030.0,673.9 1035.6,673.9 1038.2,668.1 1038.9,667.8 1041.7,659.4 1045.8,651.1 1052.8,644.2 1061.1,640.0 1072.2,640.0 1080.6,637.2 1084.7,631.7 1085.0,630.2 1086.1,624.7 1086.9,623.9 1086.6,623.7 1087.5,621.9 1086.4,620.9 1085.6,621.1 1080.0,615.6 1077.8,606.7 1074.4,601.7 1071.7,590.6 1068.9,582.2 1071.7,571.1 1073.0,564.6 1077.8,562.2 1086.1,562.2 1091.7,563.6 1092.1,564.7 1093.9,565.6 1096.7,573.9 1102.2,582.2 1107.8,587.8 1110.6,598.9 1109.6,600.8 1109.7,601.1 1113.9,599.7 1119.4,595.6 1120.1,591.7 1120.0,591.4 1120.5,589.1 1120.8,587.2 1121.0,587.0 1122.2,581.7 1127.8,578.9 1133.3,576.1 1138.9,573.3 1144.4,569.2 1150.0,570.6 1156.9,570.6 1156.9,565.0 1155.6,556.7 1152.8,553.9 1147.2,553.9 1138.9,551.1 1130.6,548.3 1127.8,545.6 1129.2,540.0 1127.8,534.4 1125.0,528.9 1122.2,526.1 1116.7,528.9 1111.1,534.4 1105.6,535.8 1100.0,531.7 1094.4,528.9 1083.3,534.4 1075.0,534.4 1066.7,535.8 1061.1,540.0 1055.6,537.2 1044.4,537.2 1022.2,542.8 1013.9,545.6 997.2,556.7 1000.0,551.1 997.2,540.0 988.9,537.2 980.6,540.0 972.2,545.6 963.9,551.1 961.8,563.6 968.9,568.3 971.7,576.7 968.9,587.8 967.3,592.5 968.6,597.7 971.7,596.1 980.0,598.9 988.3,601.7 993.9,607.2 995.6,610.6ZM852.8,582.8 855.6,591.1 866.7,607.8 872.2,613.3 874.8,615.0 880.9,614.7 880.9,653.8 877.2,652.3 877.2,660.0 875.0,668.9 872.2,677.2 877.8,677.2 880.6,675.8 888.3,673.9 896.7,671.1 905.0,668.3 913.3,665.6 921.7,660.0 922.6,658.1 927.1,662.7 932.8,668.3 938.3,671.1 943.9,671.1 948.1,657.2 947.2,652.2 946.7,648.9 943.9,643.3 939.7,640.6 938.3,626.7 939.7,615.6 943.9,612.8 938.3,615.6 930.7,610.5 930.0,610.0 929.6,610.2 924.4,612.8 918.9,623.9 913.3,626.7 905.0,623.9 899.4,618.3 898.6,615.7 896.7,610.0 896.7,598.9 902.2,590.6 916.1,576.7 924.4,571.1 935.6,565.6 941.1,563.7 941.7,563.3 942.2,563.3 943.9,562.8 947.1,561.7 961.2,561.7 961.2,527.8 953.3,530.1 951.4,530.5 944.3,532.3 933.0,533.4 924.0,533.4 917.2,532.3 912.7,530.1 908.1,536.8 905.9,541.4 904.7,533.4 901.4,527.8 898.0,525.5 895.7,519.9 893.4,527.8 890.1,536.8 886.0,545.0 881.0,547.0 865.2,545.9 862.4,542.6 861.1,543.9 855.6,546.7 852.8,560.6 851.4,571.7ZM898.0,513.1 898.8,512.0 899.1,510.8 905.9,502.9 910.4,497.3 908.5,494.5 913.2,495.4 917.2,492.8 924.0,490.5 930.7,491.6 933.0,487.1 937.5,482.6 938.4,481.4 938.9,480.0 933.3,468.9 930.6,460.6 930.6,449.4 925.0,438.3 919.4,430.0 916.7,421.7 922.2,416.1 933.3,410.6 944.4,402.2 950.0,393.9 945.8,388.3 940.3,385.6 938.9,378.6 933.3,375.8 925.0,374.4 916.7,368.9 908.3,363.3 901.4,357.8 894.4,353.6 888.9,349.4 880.6,345.3 875.0,341.1 870.8,338.3 866.7,342.5 865.3,349.4 868.1,357.8 872.2,366.1 875.0,371.7 877.8,380.0 880.6,388.3 877.8,389.7 866.7,392.5 858.3,395.3 847.2,403.3 847.1,403.3 842.2,407.8 837.8,413.3 833.3,418.2 827.8,419.6 822.2,417.8 826.7,424.4 828.9,431.1 826.7,437.8 828.9,442.2 831.1,451.1 833.3,462.2 833.3,473.3 831.1,484.4 835.6,486.7 841.4,488.1 842.6,488.2 853.9,489.4 865.2,488.2 874.2,487.1 875.0,487.2 875.6,486.7 881.1,482.2 881.1,489.1 878.8,496.2 873.1,502.9 869.7,507.5 872.0,513.1 878.8,514.2 883.3,516.5 890.1,518.8 895.3,518.8 895.7,518.8ZM844.4,741.1 850.0,746.7 855.6,749.4 861.1,743.9 866.7,738.3 872.2,735.6 875.0,730.0 880.6,721.7 882.7,717.4 883.3,717.6 880.6,724.4 879.2,734.2 883.3,735.6 888.9,741.1 894.4,745.3 900.0,748.1 908.3,749.4 916.7,750.8 925.0,750.8 933.3,749.4 941.7,746.7 950.0,743.9 949.0,742.4 938.3,721.1 932.8,715.6 930.0,714.6 927.2,712.8 918.9,710.0 912.2,707.8 909.4,707.8 907.8,707.2 899.4,707.2 896.9,709.7 894.4,710.6 886.1,710.6 877.8,707.8 866.7,707.8 855.6,710.6 844.4,713.3 833.3,710.6 836.1,724.4 838.9,732.8ZM830.6,571.7 829.2,582.8 830.6,593.9 836.1,599.4 841.7,596.7 844.4,588.3 844.4,577.2 841.7,566.1 836.1,560.6 830.6,563.3ZM797.2,535.6 800.0,527.2 798.1,527.2 800.0,517.8 802.2,500.0 801.1,491.1 798.9,473.3 800.0,464.4 797.8,455.6 791.1,457.8 784.4,457.8 777.8,455.6 780.0,464.4 777.8,473.3 775.6,482.2 768.9,491.1 764.4,495.6 764.4,504.4 766.7,513.3 768.9,522.2 771.1,531.1 772.7,538.2 780.1,536.4 780.6,538.3 788.9,541.1ZM667.8,345.9 653.3,342.7 650.1,343.1 645.6,342.5 635.8,343.7 627.4,342.7 626.1,358.0 623.3,366.1 624.8,368.3 628.3,368.3 627.6,372.6 628.9,374.4 627.2,379.6 626.7,378.3 620.0,383.3 608.3,386.7 603.3,393.3 590.0,395.0 580.0,395.0 571.7,390.0 570.7,388.1 567.8,391.1 563.8,392.4 558.3,391.7 553.3,396.7 549.2,411.7 548.3,413.3 545.6,421.7 548.3,430.0 550.7,437.1 556.7,435.6 560.4,432.7 570.0,430.0 583.3,428.3 584.2,428.1 587.2,428.6 595.6,427.2 612.2,418.9 620.6,416.1 626.1,410.6 631.7,402.2 637.2,396.7 645.6,396.7 651.1,399.4 653.9,407.8 659.4,413.3 662.2,418.9 665.0,427.2 673.3,432.8 677.8,434.3 677.8,433.3 686.7,431.1 697.8,428.9 706.7,428.9 711.1,433.3 706.7,426.7 704.4,417.8 702.2,406.7 701.1,397.8 706.7,393.3 713.3,391.1 720.0,391.1 724.4,397.8 728.9,406.7 733.3,415.6 740.0,422.2 746.7,424.4 753.3,425.6 760.0,424.4 764.4,420.0 762.2,413.3 760.0,406.7 762.2,402.2 760.0,397.8 753.3,395.6 746.7,391.1 742.2,382.2 743.1,381.4 746.7,377.8 757.8,373.3 768.9,371.1 780.0,368.9 786.7,364.4 790.5,361.6 786.1,355.0 780.6,349.4 772.2,346.7 766.7,341.1 765.8,337.8 763.9,330.0 772.2,324.4 780.6,318.9 786.1,316.1 780.6,307.8 776.4,299.4 772.2,293.9 766.7,291.1 763.9,296.7 759.7,296.7 754.2,291.1 747.2,285.6 750.0,302.2 744.4,307.8 736.1,313.3 727.8,318.9 722.7,324.0 722.7,333.0 720.2,336.8 719.5,337.8 719.1,337.8 712.9,336.7 710.0,336.3 709.8,336.2 700.1,339.5 690.4,339.5 688.4,340.1 688.5,340.3 680.7,342.7 671.0,345.3 671.0,345.1ZM760.0,344.4 762.2,351.1 755.6,357.8 746.7,360.0 737.8,360.0 733.3,355.6 731.1,348.9 735.6,342.2 744.4,340.0 753.3,341.1ZM738.9,336.9 747.2,335.6 753.4,337.6 753.4,337.8 738.2,337.8ZM722.2,685.6 713.9,680.0 705.6,674.4 697.7,674.4 697.7,674.3 705.6,671.7 707.0,667.5 707.8,667.3 717.1,665.8 726.4,662.6 723.3,658.0 710.9,645.5 704.7,633.1 703.1,626.9 706.2,622.2 710.9,616.0 707.8,611.3 701.5,606.7 695.3,605.1 689.1,600.4 673.5,591.1 665.8,589.5 663.6,590.9 663.3,590.8 662.1,591.7 658.0,594.2 650.2,602.0 644.0,607.0 641.1,608.9 635.6,614.4 638.3,625.6 643.9,629.7 649.4,633.9 650.2,634.7 656.4,644.0 668.9,659.5 671.7,662.3 671.7,667.2 666.1,672.8 657.8,675.6 649.4,678.3 641.1,681.1 632.8,683.9 624.4,686.7 616.1,686.7 613.3,690.8 621.7,696.4 630.0,701.9 638.3,707.5 646.7,711.7 657.8,714.4 666.1,718.6 674.4,724.2 680.0,731.1 688.3,736.7 699.4,740.0 710.6,742.2 721.7,745.0 730.0,746.4 731.4,747.1 738.9,750.8 747.2,749.4 751.4,743.9 755.6,735.6 758.3,724.4 755.6,716.1 747.2,710.6 738.9,702.2 730.6,693.9ZM580.6,202.8 573.6,200.0 569.8,198.8 561.5,196.8 556.1,199.4 550.6,202.8 548.7,202.2 541.7,202.2 541.7,209.2 544.4,216.1 550.0,221.7 555.6,225.8 559.7,232.8 563.9,241.1 566.7,252.2 569.4,266.1 575.0,260.6 583.3,257.8 591.7,255.0 601.4,252.2 601.4,250.8 605.6,249.4 611.1,246.7 622.2,241.1 622.6,242.8 626.4,246.7 629.2,252.2 627.8,260.6 625.0,266.1 626.4,280.0 630.6,291.1 636.1,299.4 644.4,302.2 648.6,296.7 650.0,285.6 650.0,274.4 648.6,260.6 645.8,249.4 641.7,241.1 639.3,242.7 641.7,235.6 644.4,227.2 643.1,218.9 640.3,210.6 636.1,202.2 633.3,193.9 634.7,185.6 630.6,180.0 627.8,174.4 622.2,171.7 616.7,167.5 611.1,168.9 605.6,166.1 600.0,164.7 597.2,164.0 596.4,163.7 594.8,163.4 589.4,166.1 586.1,171.7 586.7,185.6 586.7,190.6 587.5,198.1 589.9,199.0ZM645.8,235.6 658.3,236.9 662.5,231.4 658.3,227.2 652.8,224.4 648.6,225.8 644.4,227.2ZM473.1,306.6 473.6,306.7 473.6,318.9 476.7,327.2 478.9,327.2 481.7,343.9 487.2,349.4 495.6,352.2 503.9,349.4 506.7,341.1 512.2,335.6 515.0,327.2 519.2,341.1 520.6,352.2 523.3,357.8 534.4,346.7 545.6,343.9 559.4,343.9 567.8,346.7 590.0,352.2 598.3,346.7 601.1,338.3 595.6,327.2 588.9,327.2 591.7,324.4 597.2,313.3 597.2,302.2 591.7,296.7 583.3,293.9 575.0,288.3 572.2,277.2 552.8,277.2 561.1,268.9 527.8,285.6 516.7,288.3 505.6,284.2 491.7,285.6 483.3,291.1 472.2,285.6 466.7,281.4 455.6,280.0 444.4,282.8 433.3,285.6 425.0,291.1 416.7,299.4 420.0,306.1 427.8,310.0 438.9,314.4 451.1,316.7 451.1,319.9 455.9,321.1 459.7,314.7 463.9,318.9 464.8,319.5 466.7,318.9 472.2,313.3ZM502.1,327.2 502.1,327.1 505.6,325.8 516.7,324.4 525.0,321.7 525.0,327.2 515.0,327.2ZM529.2,178.6 523.6,177.2 516.7,180.0 505.6,184.2 497.2,185.6 501.4,195.3 508.3,196.7 519.4,198.1 529.2,195.3 529.9,193.9 529.2,193.3 531.9,188.9 534.7,183.3 533.9,179.4ZM484.4,403.6 492.8,405.0 498.3,405.0 503.9,402.2 509.4,396.7 515.0,388.3 512.2,382.8 506.7,374.4 498.3,366.1 481.7,360.6 470.6,363.3 462.2,366.1 451.1,368.9 442.8,371.7 444.2,382.8 445.6,393.9 448.3,402.2 453.9,407.8 459.4,410.6 467.8,409.2 476.1,406.4ZM480.6,232.8 486.1,227.2 494.4,221.7 500.0,213.3 498.6,202.2 497.2,193.9 495.2,182.5 494.6,182.2 494.4,182.8 486.1,181.4 477.8,180.0 470.8,181.4 463.9,184.2 455.6,185.6 447.2,186.9 438.9,191.1 434.8,193.6 433.3,195.3 438.9,202.2 444.4,213.3 452.8,224.4 458.3,232.8 463.9,238.3 472.2,236.9ZM415.6,712.2 418.3,706.7 429.4,695.6 435.0,687.2 432.2,681.7 437.8,684.4 443.3,681.7 451.7,676.1 460.0,670.6 471.1,662.2 476.7,656.7 477.2,655.0 477.2,630.6 476.7,628.9 473.9,620.6 471.1,612.2 465.6,615.0 454.4,613.6 450.6,613.1 442.2,610.0 433.3,607.8 428.0,607.1 426.7,606.7 421.1,603.9 410.0,615.0 401.7,619.2 393.3,620.6 385.0,617.8 376.7,612.2 371.1,603.9 362.8,606.7 354.4,612.2 352.0,619.6 351.1,621.1 346.1,626.1 343.3,634.4 337.8,645.6 332.2,651.1 323.9,656.7 321.1,662.2 323.9,673.3 326.7,681.7 332.2,690.0 337.8,695.6 343.3,698.3 348.9,695.6 348.9,703.9 354.4,712.2 358.6,720.6 357.2,726.1 360.0,731.7 365.6,737.2 371.1,740.0 376.7,741.4 385.0,742.8 393.3,745.6 398.9,748.3 404.4,751.1 410.0,752.5 414.2,748.3 414.2,734.4 412.8,720.6ZM404.1,645.9 404.2,646.0 401.7,651.1 398.9,651.1ZM434.4,341.1 431.2,341.8 423.3,343.3 414.4,345.6 410.0,347.8 405.6,345.6 401.1,350.0 392.2,354.4 387.8,361.1 388.9,362.8 392.2,367.8 396.7,374.4 403.3,381.1 410.0,378.9 418.9,380.0 427.8,381.1 436.7,378.9 437.2,378.3 437.2,346.7 445.6,341.1 445.6,338.6 443.3,338.9ZM400.0,280.0 402.8,271.7 397.2,268.9 388.9,270.3 383.3,274.4 377.8,281.4 366.7,282.8 355.6,281.4 347.2,280.0 347.2,287.8 325.6,287.8 326.7,298.9 329.8,309.3 329.6,309.4 325.6,303.3 316.7,307.8 305.6,312.2 294.4,316.7 287.8,321.1 285.6,330.0 287.8,338.9 292.2,345.6 298.9,350.0 305.6,354.4 312.2,356.7 316.7,352.2 323.3,347.8 327.8,343.3 334.4,338.9 341.1,334.4 339.1,330.5 339.2,330.4 343.3,334.4 352.2,330.0 361.1,325.6 374.4,330.0 381.1,327.8 387.8,323.3 394.4,318.9 403.3,314.4 410.0,307.8 414.4,303.3 415.6,303.9 411.9,300.2 412.2,298.9 414.4,287.8 402.6,287.8ZM399.5,257.1 404.0,253.5 411.1,250.0 411.1,241.1 406.9,240.5 409.7,236.9 411.5,230.8 411.1,227.2 411.1,213.3 410.0,204.3 409.7,205.0 402.8,209.2 394.4,207.8 386.1,206.4 377.8,206.4 372.2,207.8 366.7,209.2 363.9,209.2 363.9,213.3 366.7,221.7 369.4,231.4 373.6,242.5 377.3,246.1 383.3,242.5 391.7,241.1 398.7,241.1ZM303.2,468.4 303.9,468.9 304.1,469.0 304.4,468.9 312.7,466.8 316.7,458.9 317.1,458.2 316.7,457.2 319.4,448.9 320.8,440.6 319.4,432.2 316.7,430.4 316.7,432.2 310.0,430.0 303.3,434.4 306.7,443.3 303.3,450.0 297.8,456.7 298.9,465.6ZM220.2,381.4 223.3,382.0 230.0,383.3 236.7,383.3 236.5,381.4 237.5,381.4 236.1,371.7 235.1,370.4 234.0,366.0 229.1,363.5 227.5,362.1 225.0,357.2 221.4,357.2 217.0,354.3 212.7,350.0 207.3,346.0 202.0,343.3 196.7,344.7 192.7,342.0 190.0,343.3 186.0,350.0 180.7,352.7 175.3,355.3 170.0,356.7 167.9,357.2 159.7,357.2 159.7,360.3 158.6,359.8 160.6,361.9 159.9,365.3 159.3,368.7 159.7,369.3 162.0,372.7 167.3,376.7 169.1,378.4 170.0,379.3 168.3,382.2 172.2,382.2 178.9,381.4 180.2,381.4 183.3,382.0 190.0,383.3 196.7,382.0 199.8,381.4ZM188.9,298.9 197.2,296.7 204.2,292.5 206.9,285.6 205.0,277.2 208.3,268.9 206.9,260.6 200.0,258.6 191.7,258.3 183.3,260.6 176.4,265.6 169.4,271.1 164.4,277.2 163.3,284.2 168.1,288.3 173.6,292.5 180.6,296.7Z" fill="#5e91b9"/>
<path d="M1075.0,534.4 1083.3,534.4 1094.4,528.9 1100.0,531.7 1105.6,535.8 1111.1,534.4 1116.7,528.9 1122.2,526.1 1123.6,523.3 1123.6,515.0 1122.8,523.3 1116.7,523.3 1112.5,517.8 1108.3,512.2 1106.9,503.9 1102.8,495.6 1108.3,495.6 1102.8,492.8 1101.4,491.7 1101.4,488.5 1100.0,484.2 1099.3,483.8 1091.7,485.6 1091.3,485.7 1088.3,485.0 1086.1,485.6 1085.6,485.2 1077.8,495.6 1069.4,496.9 1061.1,498.3 1052.8,496.9 1051.5,497.2 1050.0,496.7 1044.4,496.7 1042.8,500.0 1038.9,503.9 1040.3,510.8 1041.7,517.8 1044.4,526.1 1055.6,537.2 1061.1,540.0 1066.7,535.8ZM951.1,493.9 952.4,499.0 953.3,502.9 955.6,510.7 955.6,511.8 955.6,512.0 961.2,516.5 961.2,523.4 969.4,528.9 977.8,531.7 980.6,535.8 980.9,535.9 983.9,538.9 988.9,537.2 997.2,540.0 1000.0,551.1 998.7,553.7 997.2,556.7 1013.9,545.6 1015.3,545.1 1015.4,544.8 1019.4,542.8 1022.2,534.4 1019.4,526.1 1016.7,523.3 1016.7,521.9 1019.4,523.3 1019.4,512.2 1013.9,505.3 1005.6,499.7 994.4,495.6 983.3,494.2 975.9,495.1 972.2,493.9 966.7,496.7 965.8,498.0 963.1,499.0 963.9,496.7 966.7,488.3 969.4,480.0 972.2,474.4 977.8,468.9 983.3,463.3 988.9,457.8 994.4,453.6 995.8,449.4 991.7,443.9 988.9,439.7 986.1,434.2 980.6,430.0 975.0,424.4 976.4,418.9 980.6,416.1 988.9,413.3 997.2,409.2 1001.4,405.0 1000.0,400.8 998.6,393.9 1001.4,388.3 997.2,385.6 994.4,381.4 991.7,382.8 986.1,386.9 977.8,389.7 969.4,389.7 961.1,391.1 954.2,392.5 950.0,393.9 944.4,402.2 933.3,410.6 922.2,416.1 916.7,421.7 919.4,430.0 925.0,438.3 930.6,449.4 930.6,460.6 933.3,468.9 938.9,480.0 938.4,481.4 937.5,482.6 933.0,487.1 930.7,491.6 934.1,496.2 939.8,497.3 944.3,490.5 948.8,489.4ZM747.2,285.6 754.2,291.1 759.7,296.7 763.9,296.7 766.7,291.1 772.2,293.9 776.4,299.4 780.6,307.8 786.1,316.1 791.7,313.3 794.4,307.8 800.0,302.2 802.8,296.7 798.6,293.9 794.4,288.3 788.9,282.8 783.3,277.2 777.8,274.4 772.2,273.1 769.4,277.2 763.9,281.4 758.3,277.2 752.8,274.4 747.2,273.1 744.4,277.2 741.7,281.4 736.1,281.4ZM411.1,241.1 411.1,250.0 414.6,252.1 425.3,250.3 432.0,251.7 430.8,252.1 431.9,263.3 433.3,280.0 432.6,281.5 433.2,285.7 433.3,285.6 444.4,282.8 452.8,280.0 454.4,280.3 455.6,280.0 466.7,281.4 472.2,285.6 483.3,291.1 489.3,287.1 491.7,280.0 497.2,284.2 500.9,284.6 505.6,284.2 516.7,288.3 519.4,287.6 522.2,285.6 538.9,280.0 544.4,274.4 555.6,271.7 561.1,266.1 563.9,257.8 565.3,246.7 561.1,235.6 555.6,227.2 550.0,221.7 538.9,221.7 530.6,227.2 519.4,230.0 508.3,224.4 501.4,216.1 494.4,221.7 480.6,232.8 481.6,243.0 481.3,243.1 480.6,241.1 472.2,238.3 463.9,238.3 458.3,239.7 456.6,240.6 459.3,233.8 458.3,232.8 452.8,224.4 444.4,213.3 438.9,202.2 433.3,195.3 434.8,193.6 434.8,193.6 431.9,195.3 426.4,192.5 419.4,195.3 412.5,198.1 411.1,201.5 411.1,227.2 412.5,241.3ZM433.3,249.4 439.5,248.4 439.7,248.8 432.4,251.5 432.4,249.4ZM479.0,338.6 479.2,338.3 479.0,337.4 479.7,332.0 478.9,327.2 475.0,327.2 472.2,324.4 463.9,318.9 459.7,314.7 455.6,321.7 451.1,322.9 451.1,327.2 445.6,327.2 445.6,341.1 451.1,345.3 462.2,346.7 465.5,346.3 473.3,345.3 478.9,338.3ZM460.0,754.4 466.9,754.4 468.3,745.6 469.7,734.4 471.1,726.1 465.6,717.8 460.0,706.7 454.4,695.6 448.9,691.4 440.6,690.0 435.0,687.2 429.4,695.6 418.3,706.7 415.6,712.2 412.8,720.6 414.2,734.4 415.6,742.8 418.3,740.0 423.9,737.2 429.4,740.0 435.0,745.6 440.6,748.3 448.9,751.1 454.4,752.5ZM382.2,444.4 375.6,451.1 368.9,457.8 360.0,464.4 353.3,473.3 351.3,481.3 350.0,485.0 346.7,493.3 347.8,500.0 353.3,504.4 360.0,504.4 366.7,508.9 371.1,511.1 375.6,508.9 388.9,504.4 393.3,502.2 397.8,504.4 404.4,507.8 408.9,506.7 408.9,497.8 413.3,493.3 420.0,491.1 426.7,488.9 428.1,486.9 430.0,484.4 426.7,477.8 422.2,471.1 415.6,464.4 408.9,455.6 403.9,450.6 402.2,448.9 397.8,442.2 393.3,436.7 389.2,437.4 387.8,436.7 387.1,437.7 386.7,437.8ZM123.6,298.9 125.0,307.8 123.9,315.6 126.4,324.4 130.6,332.2 136.1,340.6 142.2,346.7 149.4,352.2 155.6,356.4 158.6,359.8 159.7,360.3 159.7,357.2 167.9,357.2 170.0,356.7 175.3,355.3 180.7,352.7 186.0,350.0 190.0,343.3 192.7,342.0 196.7,344.7 202.0,343.3 207.3,346.0 212.7,350.0 217.0,354.3 221.4,357.2 225.0,357.2 227.5,362.1 229.1,363.5 234.0,366.0 235.1,370.4 236.1,371.7 236.2,372.4 244.4,368.3 247.8,367.5 247.8,363.3 254.4,361.1 263.3,363.3 272.2,367.8 278.9,372.2 281.1,365.6 285.6,358.9 286.7,357.2 289.6,357.2 290.0,356.7 292.2,355.6 291.7,352.2 291.0,349.4 292.2,345.6 287.8,338.9 285.6,330.0 287.8,321.1 290.4,319.3 294.4,316.7 305.6,312.2 316.7,307.8 325.6,301.1 326.0,295.7 326.3,295.4 325.6,287.8 334.4,287.8 341.7,284.2 347.2,281.8 347.2,280.0 355.6,281.4 366.7,282.8 377.8,281.4 381.9,274.4 383.3,266.1 388.9,270.3 397.2,268.9 400.0,267.8 400.0,260.6 400.5,256.3 399.5,257.1 398.8,241.6 398.6,241.1 391.7,241.1 383.3,242.5 376.4,246.7 376.7,247.8 372.2,246.7 363.9,248.1 341.7,248.1 333.3,243.9 327.8,238.3 325.0,230.0 326.4,221.7 326.0,219.4 325.6,219.4 322.2,225.8 315.3,228.9 306.9,231.4 300.0,235.0 294.4,241.1 291.7,246.7 286.1,246.7 279.2,246.1 271.7,248.9 266.7,253.6 263.3,260.6 258.3,266.7 252.2,265.6 245.8,261.1 238.9,256.4 233.3,252.8 225.0,255.0 218.1,256.4 212.5,258.3 206.9,260.6 208.3,268.9 205.0,277.2 206.9,285.6 204.2,292.5 197.2,296.7 188.9,298.9 180.6,296.7 173.6,292.5 168.1,288.3 163.3,284.2 164.4,277.2 160.6,284.4 155.6,290.6 149.4,295.3 146.7,302.8 142.2,305.6 141.7,298.1 138.9,288.9 134.7,282.8 129.2,278.6 128.3,272.2 125.6,268.9 120.0,268.3 116.7,270.3 117.2,280.0 112.5,282.2 114.4,287.8 119.4,292.5Z" fill="#226699"/>
<path d="M1119.4,491.4 1113.9,494.2 1108.3,495.6 1102.8,495.6 1106.9,503.9 1108.3,512.2 1112.5,517.8 1116.7,523.3 1122.8,523.3 1123.6,515.0 1126.4,508.1 1123.6,506.7 1125.0,501.1 1123.6,494.2ZM486.1,142.5 480.6,146.7 477.8,152.2 480.6,157.8 486.1,161.9 493.1,171.7 495.8,177.2 494.6,182.2 499.4,185.2 505.6,184.2 516.7,180.0 522.2,177.8 526.4,171.7 527.8,166.1 525.0,160.6 519.4,157.8 516.7,152.2 513.9,149.4 508.3,148.1 502.8,149.4 497.2,146.7 491.7,143.9ZM363.9,213.3 361.1,210.0 356.9,207.8 352.8,210.6 350.0,219.4 349.9,221.5 343.8,227.5 336.5,232.4 332.9,230.0 330.0,218.9 326.0,219.4 326.4,221.7 325.0,230.0 327.8,238.3 333.3,243.9 341.7,248.1 363.9,248.1 370.8,246.7 375.0,243.9 373.6,242.5 369.4,231.4 366.7,221.7Z" fill="#073f86"/>
</g>
<g fill="none" stroke="#bcc5ce" stroke-width="1" stroke-opacity="0.9" stroke-linejoin="round">
<path d="M345.2,694.9 L353.3,688.4 L354.9,672.3 L355.7,662.6 L367.8,661.8 L380.7,663.4 L388.8,665.8 L392.0,659.4 L395.2,649.7 L398.5,643.2 L400.1,636.8"/>
<path d="M400.1,646.5 L413.0,657.8 L422.7,669.1 L429.1,675.5 L434.0,680.4 L434.8,686.8"/>
<path d="M777.8,577.8 L781.1,586.7 L783.9,595.6 L785.6,602.2 L787.2,608.9 L792.2,612.2 L800.0,610.0 L804.4,607.8"/>
<path d="M740.0,610.0 L746.7,612.2 L753.3,614.4 L758.9,616.7 L763.3,613.3 L768.9,608.3 L773.3,606.7 L777.8,607.2 L782.2,608.3 L787.2,609.1"/>
<path d="M800.0,588.9 L806.7,590.0 L813.3,587.8 L820.0,590.0 L826.7,592.2 L832.2,593.9 L836.7,594.4 L843.3,598.9 L851.1,601.1"/>
<path d="M802.2,642.2 L808.9,643.3 L817.8,641.1 L824.4,640.0"/>
<path d="M811.1,657.8 L815.6,664.4 L820.0,667.8 L824.4,668.9 L831.1,668.9 L837.8,667.8 L844.4,664.4 L851.1,662.2 L857.8,660.0 L862.2,660.0"/>
<path d="M857.8,624.4 L856.7,637.8 L851.1,644.4 L852.2,651.1 L855.6,657.8 L857.8,660.0"/>
<path d="M835.6,580.0 L837.8,586.7 L836.7,594.4"/>
<path d="M168.7,291.3 L173.3,294.4 L174.9,302.2 L173.3,310.0 L171.8,317.8 L168.7,324.0 L170.2,328.7 L174.9,333.3 L179.6,336.5 L181.1,345.8 L185.0,349.7"/>
<path d="M204.4,271.1 L206.0,278.9 L209.1,286.7 L213.8,292.9 L215.3,299.1 L215.3,305.3 L218.5,313.1 L224.7,317.8 L226.2,327.1 L226.2,333.3 L223.1,339.6 L220.0,342.7 L218.5,348.9"/>
<path d="M213.0,259.4 L215.3,264.9 L220.0,271.1 L226.2,280.4 L229.3,291.3 L234.0,297.6 L243.3,299.1 L252.7,299.9 L258.9,294.4 L265.1,289.8 L271.3,285.1 L275.2,280.8"/>
<path d="M249.6,268.0 L258.9,274.2 L268.2,277.3 L275.2,280.8 L282.2,285.1 L290.0,286.7 L293.1,294.4 L291.6,302.2 L290.0,310.0 L290.8,317.8 L286.9,321.7"/>
<path d="M258.9,299.1 L257.3,305.3 L258.9,311.6 L255.8,317.8 L251.1,320.9 L248.0,317.8 L249.6,311.6 L252.7,305.3 L255.8,300.7 L258.9,299.1"/>
<path d="M290.0,252.4 L291.6,263.3 L299.3,269.6 L305.6,272.7 L311.8,278.9 L314.9,286.7 L313.3,291.3 L321.1,292.9 L330.5,289.8"/>
<path d="M881.1,390.0 L886.7,404.4 L897.8,413.3 L911.1,424.4 L918.2,428.9"/>
<path d="M914.4,428.9 L911.1,440.0 L906.7,451.1 L902.2,464.4 L897.8,477.8 L893.3,486.7 L888.9,489.3"/>
<path d="M840.0,451.1 L848.9,455.6 L857.8,464.4 L866.7,473.3 L875.6,480.0 L884.4,486.7 L891.1,489.3"/>
<path d="M854.4,400.0 L853.3,417.8 L848.9,433.3 L843.3,448.9"/>
<path d="M924.4,417.8 L935.6,416.7 L946.7,422.2 L953.3,428.9 L955.6,435.6 L960.0,442.2 L964.4,451.1 L966.7,460.0 L970.0,464.4"/>
<path d="M1086.7,498.9 L1095.6,498.4 L1104.4,501.1 L1108.9,507.8 L1106.7,514.4 L1100.0,517.8 L1091.1,516.7 L1087.8,510.0 L1086.7,498.9"/>
<path d="M1095.6,517.8 L1093.3,525.6 L1094.4,534.4"/>
<path d="M1104.4,517.8 L1113.3,523.3 L1116.0,530.4"/>
<path d="M1060.0,534.4 L1057.8,545.6 L1055.6,558.9 L1057.8,570.0 L1060.4,576.7"/>
<path d="M1044.4,545.6 L1042.2,558.9 L1040.0,572.2 L1038.2,585.6"/>
<path d="M1113.3,543.3 L1108.9,554.4 L1105.6,563.3 L1111.1,572.2 L1120.0,581.1 L1122.7,587.8"/>
<path d="M1002.2,574.4 L1013.3,578.9 L1024.4,581.1 L1033.3,585.6 L1042.2,585.6 L1051.1,581.1"/>
<path d="M988.9,607.8 L1002.2,612.2 L1024.4,610.0 L1033.3,607.8 L1037.8,616.7 L1042.2,623.3 L1053.3,621.1 L1064.4,616.7 L1077.8,614.4"/>
<path d="M1033.3,585.6 L1034.4,598.9 L1033.3,607.8"/>
<path d="M980.0,530.0 L993.3,525.6 L1006.7,523.3 L1015.6,521.1"/>
<path d="M480.4,241.1 L482.2,250.0 L485.7,262.4 L489.3,273.1 L491.4,283.7"/>
</g>
<g fill="none" stroke="#8e9aaa" stroke-width="1" stroke-linejoin="round">
<path d="M300.0,499.8 L314.7,494.9 L329.3,488.8 L341.6,483.9 L346.5,490.0 L345.2,507.1 L344.0,526.7 L341.6,541.4 L338.9,549.2 L331.3,560.7 L327.5,571.9 L323.7,579.5 L316.1,587.1 L308.6,592.7 L302.9,602.2 L297.3,613.5 L293.4,625.0 L289.7,636.2"/>
<path d="M412.5,507.1 L422.2,504.7 L436.9,512.0 L451.6,516.9 L466.3,514.5 L476.0,516.9 L485.8,521.8 L500.5,516.9 L510.3,512.0 L520.0,516.9 L529.8,521.8 L542.1,516.9 L554.3,512.0 L568.9,512.0 L581.2,509.6 L600.0,505.9"/>
<path d="M471.1,477.8 L473.6,490.0 L478.5,497.4 L480.9,514.0"/>
<path d="M560.0,514.0 L578.0,512.0 L580.0,500.0 L582.0,490.0 L590.0,480.0 L602.0,476.0 L612.0,472.0 L620.0,468.0 L628.0,460.0 L634.0,452.0 L638.0,440.0 L640.0,434.0"/>
<path d="M634.0,464.0 L646.0,474.0 L668.0,479.0 L676.0,485.0 L684.0,497.0 L691.0,501.0 L700.0,498.4 L709.0,500.4 L720.0,508.0 L730.0,516.0 L740.0,524.0 L750.0,530.0 L758.0,534.0 L768.0,539.0"/>
</g>
<path d="M112.5,282.2 117.2,280.0 116.7,270.3 120.0,268.3 125.6,268.9 128.3,272.2 129.2,278.6 134.7,282.8 138.9,288.9 141.7,298.1 142.2,305.6 146.7,302.8 149.4,295.3 155.6,290.6 160.6,284.4 164.4,277.2 169.4,271.1 176.4,265.6 183.3,260.6 191.7,258.3 200.0,258.6 206.9,260.6 212.5,258.3 218.1,256.4 225.0,255.0 233.3,252.8 238.9,256.4 245.8,261.1 252.2,265.6 258.3,266.7 263.3,260.6 266.7,253.6 271.7,248.9 279.2,246.1 286.1,246.7 291.7,246.7 294.4,241.1 300.0,235.0 306.9,231.4 315.3,228.9 322.2,225.8 325.6,219.4 330.0,218.9 332.9,230.0 336.5,232.4 343.8,227.5 349.9,221.5 350.0,219.4 350.0,219.4 352.8,210.6 356.9,207.8 361.1,209.2 366.7,209.2 372.2,207.8 377.8,206.4 386.1,206.4 394.4,207.8 402.8,209.2 409.7,205.0 412.5,198.1 419.4,195.3 426.4,192.5 431.9,195.3 438.9,191.1 447.2,186.9 455.6,185.6 463.9,184.2 470.8,181.4 477.8,180.0 486.1,181.4 494.4,182.8 495.8,177.2 493.1,171.7 486.1,161.9 480.6,157.8 477.8,152.2 480.6,146.7 486.1,142.5 491.7,143.9 497.2,146.7 502.8,149.4 508.3,148.1 513.9,149.4 516.7,152.2 519.4,157.8 525.0,160.6 527.8,166.1 526.4,171.7 523.6,177.2 529.2,178.6 533.9,179.4 534.7,183.3 531.9,188.9 529.2,193.3 533.9,197.2 541.7,198.1 545.8,201.4 550.6,202.8 556.1,199.4 561.7,196.7 567.2,198.1 573.6,200.0 580.6,202.8 586.7,198.1 586.7,185.6 586.1,171.7 589.4,166.1 595.0,163.3 600.0,164.7 600.0,164.7 605.6,166.1 611.1,168.9 616.7,167.5 622.2,171.7 627.8,174.4 630.6,180.0 634.7,185.6 633.3,193.9 636.1,202.2 640.3,210.6 643.1,218.9 644.4,227.2 648.6,225.8 652.8,224.4 658.3,227.2 662.5,231.4 666.7,235.0 669.4,232.8 675.0,234.2 680.6,236.9 686.1,239.7 691.7,243.9 697.2,245.3 702.8,243.9 709.7,243.9 712.5,249.4 713.9,257.8 718.1,261.9 725.0,261.9 730.6,263.3 736.1,266.1 738.9,277.2 736.1,281.4 741.7,281.4 744.4,277.2 747.2,273.1 752.8,274.4 758.3,277.2 763.9,281.4 769.4,277.2 772.2,273.1 777.8,274.4 783.3,277.2 788.9,282.8 794.4,288.3 798.6,293.9 802.8,296.7 800.0,302.2 794.4,307.8 791.7,313.3 786.1,316.1 780.6,318.9 772.2,324.4 763.9,330.0 766.7,341.1 772.2,346.7 780.6,349.4 786.1,355.0 791.7,363.3 797.2,371.7 802.8,380.0 807.8,386.7 811.1,394.4 813.3,404.4 816.7,412.2 822.2,417.8 827.8,419.6 833.3,418.2 837.8,413.3 842.2,407.8 847.1,403.3 858.3,395.3 866.7,392.5 877.8,389.7 880.6,388.3 877.8,380.0 875.0,371.7 872.2,366.1 868.1,357.8 865.3,349.4 866.7,342.5 870.8,338.3 875.0,341.1 880.6,345.3 888.9,349.4 894.4,353.6 901.4,357.8 908.3,363.3 916.7,368.9 925.0,374.4 933.3,375.8 938.9,378.6 940.3,385.6 945.8,388.3 950.0,393.9 954.2,392.5 961.1,391.1 969.4,389.7 977.8,389.7 986.1,386.9 991.7,382.8 994.4,381.4 997.2,385.6 1001.4,388.3 998.6,393.9 1000.0,400.8 1001.4,405.0 997.2,409.2 988.9,413.3 980.6,416.1 976.4,418.9 975.0,424.4 980.6,430.0 986.1,434.2 988.9,439.7 991.7,443.9 995.8,449.4 994.4,453.6 1001.4,457.8 1011.1,463.3 1019.4,467.5 1027.8,466.1 1036.1,463.3 1040.3,459.2 1038.9,453.6 1041.7,450.8 1047.2,452.2 1050.0,459.2 1051.4,466.1 1056.9,468.9 1063.9,470.3 1069.4,470.3 1075.0,474.4 1080.6,481.4 1086.1,485.6 1091.7,484.2 1097.2,482.8 1100.0,484.2 1100.0,484.2 1102.8,492.8 1108.3,495.6 1113.9,494.2 1119.4,491.4 1123.6,494.2 1125.0,501.1 1123.6,506.7 1126.4,508.1 1123.6,515.0 1123.6,523.3 1122.2,526.1 1125.0,528.9 1127.8,534.4 1129.2,540.0 1127.8,545.6 1130.6,548.3 1138.9,551.1 1147.2,553.9 1152.8,553.9 1155.6,556.7 1156.9,565.0 1156.9,573.3 1159.7,578.9 1161.1,587.2 1161.1,591.4 1155.6,595.6 1150.0,598.3 1144.4,599.7 1138.9,599.7 1133.3,598.3 1127.8,596.9 1122.2,598.3 1116.7,599.7 1112.5,601.1 1108.3,605.3 1105.0,610.8 1100.0,615.6 1094.4,619.2 1088.9,621.9 1086.1,624.7 1084.7,631.7 1080.6,637.2 1072.2,640.0 1061.1,640.0 1052.8,644.2 1045.8,651.1 1041.7,659.4 1038.9,667.8 1036.1,674.7 1034.7,681.7 1033.3,690.0 1032.8,690.0 1031.4,690.6 1027.2,698.9 1021.7,704.4 1013.3,705.8 1005.0,705.8 999.4,710.0 996.7,715.6 993.9,721.1 991.1,726.7 982.8,729.4 971.7,735.0 960.6,740.6 950.0,743.9 950.0,743.9 941.7,746.7 933.3,749.4 925.0,750.8 916.7,750.8 908.3,749.4 900.0,748.1 894.4,745.3 888.9,741.1 883.3,735.6 879.2,734.2 872.2,738.3 863.9,743.9 858.3,748.1 853.6,751.1 848.5,758.8 840.7,769.2 838.1,779.4 834.3,787.2 830.4,788.5 829.1,779.4 827.8,769.2 816.7,764.7 808.3,760.6 800.0,755.0 794.4,749.4 788.9,743.9 783.3,741.1 775.0,738.3 766.7,736.9 758.3,735.6 755.6,738.3 747.2,749.4 738.9,750.8 730.0,746.4 730.0,746.4 721.7,745.0 710.6,742.2 699.4,740.0 688.3,736.7 680.0,731.1 674.4,724.2 666.1,718.6 657.8,714.4 646.7,711.7 638.3,707.5 630.0,701.9 621.7,696.4 613.3,690.8 605.0,686.7 598.1,682.5 589.7,678.3 580.0,672.8 571.7,671.4 563.3,674.4 556.4,675.0 552.8,670.0 546.7,663.1 538.3,658.9 530.0,656.1 525.8,660.3 523.1,670.0 520.3,683.9 517.5,697.8 514.7,711.7 510.0,713.3 510.0,713.6 504.4,712.2 498.9,710.8 493.3,711.4 487.8,715.6 482.2,720.6 476.7,723.9 471.1,726.7 469.7,734.4 468.3,745.6 466.9,754.4 460.0,754.4 454.4,752.5 448.9,751.1 440.6,748.3 435.0,745.6 429.4,740.0 423.9,737.2 418.3,740.0 415.6,742.8 414.2,748.3 410.0,752.5 404.4,751.1 398.9,748.3 393.3,745.6 385.0,742.8 376.7,741.4 371.1,740.0 365.6,737.2 360.0,731.7 357.2,726.1 358.6,720.6 354.4,712.2 348.9,704.4 343.3,698.9 337.8,695.6 332.2,690.0 326.7,681.7 323.9,673.3 321.1,665.6 318.3,660.0 312.8,656.7 307.2,651.1 301.7,645.6 293.3,640.6 287.8,637.8 282.2,637.2 276.7,631.7 271.1,623.3 270.0,610.0 270.0,610.0 266.1,603.9 261.1,596.7 255.6,591.1 250.0,585.6 244.4,579.4 238.9,571.1 233.3,564.2 227.8,557.2 222.8,551.7 220.0,544.7 216.7,539.2 211.1,533.6 202.8,529.4 197.2,526.7 190.3,525.3 184.7,521.1 180.6,512.8 175.0,504.4 169.4,497.5 166.7,490.6 168.1,482.2 166.7,473.9 163.3,468.3 159.7,460.0 156.9,450.3 154.0,440.7 151.3,434.0 147.3,428.7 143.3,423.3 140.7,416.7 140.7,412.7 143.3,410.0 150.0,406.0 154.0,400.7 156.7,395.3 160.7,391.3 166.0,386.0 170.0,379.3 167.3,376.7 162.0,372.7 159.3,368.7 160.6,361.9 155.6,356.4 149.4,352.2 142.2,346.7 136.1,340.6 130.6,332.2 126.4,324.4 123.9,315.6 125.0,307.8 123.6,298.9 119.4,292.5 114.4,287.8Z" fill="none" stroke="#8a9cb0" stroke-width="0.8"/>
<g fill="none" stroke="#f4ebc8" stroke-opacity="0.7" stroke-width="2.6">
<circle cx="789.4" cy="638.9" r="22.8"/>
<circle cx="293.0" cy="441.1" r="15.6"/>
<circle cx="743.1" cy="553.1" r="15.6"/>
<circle cx="531.4" cy="620.6" r="15.6"/>
<circle cx="440.3" cy="263.3" r="12.1"/>
<circle cx="931.4" cy="588.8" r="12.1"/>
<circle cx="249.2" cy="289.2" r="8.2"/>
<circle cx="231.1" cy="310.0" r="8.2"/>
<circle cx="230.0" cy="343.3" r="8.2"/>
<circle cx="496.7" cy="205.0" r="8.2"/>
<circle cx="424.1" cy="358.3" r="8.2"/>
<circle cx="720.0" cy="268.9" r="8.2"/>
<circle cx="698.9" cy="379.6" r="8.2"/>
<circle cx="1069.4" cy="515.0" r="8.2"/>
<circle cx="979.4" cy="571.4" r="8.2"/>
<circle cx="1058.2" cy="582.9" r="8.2"/>
<circle cx="1084.5" cy="572.3" r="8.2"/>
<circle cx="1018.9" cy="597.5" r="8.2"/>
<circle cx="1019.4" cy="695.6" r="8.2"/>
<circle cx="679.4" cy="419.4" r="8.2"/>
<circle cx="750.4" cy="437.8" r="8.2"/>
<circle cx="695.6" cy="538.6" r="8.2"/>
<circle cx="404.2" cy="569.8" r="8.2"/>
<circle cx="441.1" cy="651.7" r="8.2"/>
<circle cx="410.0" cy="690.0" r="8.2"/>
<circle cx="700.3" cy="588.1" r="8.2"/>
<circle cx="810.3" cy="569.7" r="8.2"/>
<circle cx="907.5" cy="615.6" r="8.2"/>
<circle cx="791.1" cy="681.4" r="8.2"/>
<circle cx="824.2" cy="755.3" r="8.2"/>
<circle cx="122.8" cy="275.0" r="4.2"/>
<circle cx="152.8" cy="297.5" r="4.2"/>
<circle cx="133.3" cy="310.0" r="4.2"/>
<circle cx="266.1" cy="255.0" r="4.2"/>
<circle cx="325.6" cy="264.7" r="4.2"/>
<circle cx="216.7" cy="297.8" r="4.2"/>
<circle cx="178.9" cy="332.2" r="4.2"/>
<circle cx="174.4" cy="341.7" r="4.2"/>
<circle cx="216.1" cy="336.9" r="4.2"/>
<circle cx="508.9" cy="156.9" r="4.2"/>
<circle cx="530.0" cy="183.3" r="4.2"/>
<circle cx="359.2" cy="257.8" r="4.2"/>
<circle cx="420.8" cy="293.9" r="4.2"/>
<circle cx="481.9" cy="286.4" r="4.2"/>
<circle cx="515.6" cy="296.7" r="4.2"/>
<circle cx="366.1" cy="298.8" r="4.2"/>
<circle cx="524.4" cy="268.9" r="4.2"/>
<circle cx="560.3" cy="205.0" r="4.2"/>
<circle cx="580.6" cy="210.6" r="4.2"/>
<circle cx="546.7" cy="217.5" r="4.2"/>
<circle cx="593.9" cy="251.4" r="4.2"/>
<circle cx="449.2" cy="330.0" r="4.2"/>
<circle cx="474.4" cy="343.2" r="4.2"/>
<circle cx="473.2" cy="375.7" r="4.2"/>
<circle cx="560.3" cy="378.1" r="4.2"/>
<circle cx="602.8" cy="188.3" r="4.2"/>
<circle cx="656.4" cy="243.9" r="4.2"/>
<circle cx="620.8" cy="259.7" r="4.2"/>
<circle cx="602.8" cy="272.2" r="4.2"/>
<circle cx="673.6" cy="268.9" r="4.2"/>
<circle cx="658.9" cy="273.9" r="4.2"/>
<circle cx="689.7" cy="295.3" r="4.2"/>
<circle cx="721.4" cy="291.1" r="4.2"/>
<circle cx="767.5" cy="307.2" r="4.2"/>
<circle cx="632.5" cy="315.6" r="4.2"/>
<circle cx="609.7" cy="337.4" r="4.2"/>
<circle cx="611.7" cy="367.8" r="4.2"/>
<circle cx="639.3" cy="366.2" r="4.2"/>
<circle cx="880.0" cy="355.6" r="4.2"/>
<circle cx="985.6" cy="438.9" r="4.2"/>
<circle cx="969.4" cy="467.9" r="4.2"/>
<circle cx="1017.4" cy="480.4" r="4.2"/>
<circle cx="863.9" cy="511.1" r="4.2"/>
<circle cx="886.9" cy="510.0" r="4.2"/>
<circle cx="941.7" cy="506.9" r="4.2"/>
<circle cx="1099.2" cy="508.1" r="4.2"/>
<circle cx="908.9" cy="554.2" r="4.2"/>
<circle cx="1121.4" cy="539.4" r="4.2"/>
<circle cx="1147.8" cy="581.7" r="4.2"/>
<circle cx="1002.5" cy="589.3" r="4.2"/>
<circle cx="1047.2" cy="598.9" r="4.2"/>
<circle cx="993.5" cy="656.8" r="4.2"/>
<circle cx="1016.0" cy="676.8" r="4.2"/>
<circle cx="269.5" cy="408.5" r="4.2"/>
<circle cx="181.1" cy="426.9" r="4.2"/>
<circle cx="201.4" cy="429.2" r="4.2"/>
<circle cx="274.9" cy="428.1" r="4.2"/>
<circle cx="325.6" cy="447.4" r="4.2"/>
<circle cx="277.9" cy="480.0" r="4.2"/>
<circle cx="210.3" cy="503.9" r="4.2"/>
<circle cx="233.1" cy="521.1" r="4.2"/>
<circle cx="267.2" cy="520.6" r="4.2"/>
<circle cx="301.1" cy="595.0" r="4.2"/>
<circle cx="380.3" cy="430.4" r="4.2"/>
<circle cx="418.6" cy="441.8" r="4.2"/>
<circle cx="438.1" cy="429.7" r="4.2"/>
<circle cx="389.6" cy="471.3" r="4.2"/>
<circle cx="471.9" cy="384.2" r="4.2"/>
<circle cx="565.6" cy="389.2" r="4.2"/>
<circle cx="450.6" cy="410.3" r="4.2"/>
<circle cx="452.8" cy="424.4" r="4.2"/>
<circle cx="601.9" cy="432.2" r="4.2"/>
<circle cx="619.2" cy="441.9" r="4.2"/>
<circle cx="567.8" cy="478.3" r="4.2"/>
<circle cx="452.8" cy="487.4" r="4.2"/>
<circle cx="489.4" cy="494.8" r="4.2"/>
<circle cx="663.8" cy="532.6" r="4.2"/>
<circle cx="494.3" cy="559.3" r="4.2"/>
<circle cx="449.4" cy="576.2" r="4.2"/>
<circle cx="632.9" cy="571.0" r="4.2"/>
<circle cx="766.7" cy="396.7" r="4.2"/>
<circle cx="751.6" cy="409.6" r="4.2"/>
<circle cx="800.0" cy="436.0" r="4.2"/>
<circle cx="784.4" cy="448.9" r="4.2"/>
<circle cx="787.1" cy="463.6" r="4.2"/>
<circle cx="713.8" cy="471.1" r="4.2"/>
<circle cx="764.7" cy="468.9" r="4.2"/>
<circle cx="785.8" cy="500.0" r="4.2"/>
<circle cx="358.9" cy="540.2" r="4.2"/>
<circle cx="351.4" cy="593.7" r="4.2"/>
<circle cx="400.0" cy="604.3" r="4.2"/>
<circle cx="396.9" cy="629.2" r="4.2"/>
<circle cx="465.3" cy="639.4" r="4.2"/>
<circle cx="415.6" cy="702.5" r="4.2"/>
<circle cx="597.5" cy="646.9" r="4.2"/>
<circle cx="721.0" cy="630.1" r="4.2"/>
<circle cx="701.1" cy="655.6" r="4.2"/>
<circle cx="846.4" cy="552.2" r="4.2"/>
<circle cx="880.3" cy="584.2" r="4.2"/>
<circle cx="767.8" cy="601.1" r="4.2"/>
<circle cx="804.4" cy="601.7" r="4.2"/>
<circle cx="735.6" cy="613.6" r="4.2"/>
<circle cx="756.4" cy="640.0" r="4.2"/>
<circle cx="810.0" cy="651.4" r="4.2"/>
<circle cx="836.1" cy="647.2" r="4.2"/>
<circle cx="890.6" cy="641.1" r="4.2"/>
<circle cx="942.1" cy="653.2" r="4.2"/>
<circle cx="749.4" cy="663.3" r="4.2"/>
<circle cx="854.4" cy="661.1" r="4.2"/>
<circle cx="865.8" cy="729.4" r="4.2"/>
<circle cx="957.2" cy="700.3" r="4.2"/>
</g>
<g fill="#f5a10a" stroke="#cc931f" stroke-width="1">
<circle cx="789.4" cy="638.9" r="22.8"/>
<circle cx="293.0" cy="441.1" r="15.6"/>
<circle cx="743.1" cy="553.1" r="15.6"/>
<circle cx="531.4" cy="620.6" r="15.6"/>
<circle cx="440.3" cy="263.3" r="12.1"/>
<circle cx="931.4" cy="588.8" r="12.1"/>
<circle cx="249.2" cy="289.2" r="8.2"/>
<circle cx="231.1" cy="310.0" r="8.2"/>
<circle cx="230.0" cy="343.3" r="8.2"/>
<circle cx="496.7" cy="205.0" r="8.2"/>
<circle cx="424.1" cy="358.3" r="8.2"/>
<circle cx="720.0" cy="268.9" r="8.2"/>
<circle cx="698.9" cy="379.6" r="8.2"/>
<circle cx="1069.4" cy="515.0" r="8.2"/>
<circle cx="979.4" cy="571.4" r="8.2"/>
<circle cx="1058.2" cy="582.9" r="8.2"/>
<circle cx="1084.5" cy="572.3" r="8.2"/>
<circle cx="1018.9" cy="597.5" r="8.2"/>
<circle cx="1019.4" cy="695.6" r="8.2"/>
<circle cx="679.4" cy="419.4" r="8.2"/>
<circle cx="750.4" cy="437.8" r="8.2"/>
<circle cx="695.6" cy="538.6" r="8.2"/>
<circle cx="404.2" cy="569.8" r="8.2"/>
<circle cx="441.1" cy="651.7" r="8.2"/>
<circle cx="410.0" cy="690.0" r="8.2"/>
<circle cx="700.3" cy="588.1" r="8.2"/>
<circle cx="810.3" cy="569.7" r="8.2"/>
<circle cx="907.5" cy="615.6" r="8.2"/>
<circle cx="791.1" cy="681.4" r="8.2"/>
<circle cx="824.2" cy="755.3" r="8.2"/>
<circle cx="122.8" cy="275.0" r="4.2"/>
<circle cx="152.8" cy="297.5" r="4.2"/>
<circle cx="133.3" cy="310.0" r="4.2"/>
<circle cx="266.1" cy="255.0" r="4.2"/>
<circle cx="325.6" cy="264.7" r="4.2"/>
<circle cx="216.7" cy="297.8" r="4.2"/>
<circle cx="178.9" cy="332.2" r="4.2"/>
<circle cx="174.4" cy="341.7" r="4.2"/>
<circle cx="216.1" cy="336.9" r="4.2"/>
<circle cx="508.9" cy="156.9" r="4.2"/>
<circle cx="530.0" cy="183.3" r="4.2"/>
<circle cx="359.2" cy="257.8" r="4.2"/>
<circle cx="420.8" cy="293.9" r="4.2"/>
<circle cx="481.9" cy="286.4" r="4.2"/>
<circle cx="515.6" cy="296.7" r="4.2"/>
<circle cx="366.1" cy="298.8" r="4.2"/>
<circle cx="524.4" cy="268.9" r="4.2"/>
<circle cx="560.3" cy="205.0" r="4.2"/>
<circle cx="580.6" cy="210.6" r="4.2"/>
<circle cx="546.7" cy="217.5" r="4.2"/>
<circle cx="593.9" cy="251.4" r="4.2"/>
<circle cx="449.2" cy="330.0" r="4.2"/>
<circle cx="474.4" cy="343.2" r="4.2"/>
<circle cx="473.2" cy="375.7" r="4.2"/>
<circle cx="560.3" cy="378.1" r="4.2"/>
<circle cx="602.8" cy="188.3" r="4.2"/>
<circle cx="656.4" cy="243.9" r="4.2"/>
<circle cx="620.8" cy="259.7" r="4.2"/>
<circle cx="602.8" cy="272.2" r="4.2"/>
<circle cx="673.6" cy="268.9" r="4.2"/>
<circle cx="658.9" cy="273.9" r="4.2"/>
<circle cx="689.7" cy="295.3" r="4.2"/>
<circle cx="721.4" cy="291.1" r="4.2"/>
<circle cx="767.5" cy="307.2" r="4.2"/>
<circle cx="632.5" cy="315.6" r="4.2"/>
<circle cx="609.7" cy="337.4" r="4.2"/>
<circle cx="611.7" cy="367.8" r="4.2"/>
<circle cx="639.3" cy="366.2" r="4.2"/>
<circle cx="880.0" cy="355.6" r="4.2"/>
<circle cx="985.6" cy="438.9" r="4.2"/>
<circle cx="969.4" cy="467.9" r="4.2"/>
<circle cx="1017.4" cy="480.4" r="4.2"/>
<circle cx="863.9" cy="511.1" r="4.2"/>
<circle cx="886.9" cy="510.0" r="4.2"/>
<circle cx="941.7" cy="506.9" r="4.2"/>
<circle cx="1099.2" cy="508.1" r="4.2"/>
<circle cx="908.9" cy="554.2" r="4.2"/>
<circle cx="1121.4" cy="539.4" r="4.2"/>
<circle cx="1147.8" cy="581.7" r="4.2"/>
<circle cx="1002.5" cy="589.3" r="4.2"/>
<circle cx="1047.2" cy="598.9" r="4.2"/>
<circle cx="993.5" cy="656.8" r="4.2"/>
<circle cx="1016.0" cy="676.8" r="4.2"/>
<circle cx="269.5" cy="408.5" r="4.2"/>
<circle cx="181.1" cy="426.9" r="4.2"/>
<circle cx="201.4" cy="429.2" r="4.2"/>
<circle cx="274.9" cy="428.1" r="4.2"/>
<circle cx="325.6" cy="447.4" r="4.2"/>
<circle cx="277.9" cy="480.0" r="4.2"/>
<circle cx="210.3" cy="503.9" r="4.2"/>
<circle cx="233.1" cy="521.1" r="4.2"/>
<circle cx="267.2" cy="520.6" r="4.2"/>
<circle cx="301.1" cy="595.0" r="4.2"/>
<circle cx="380.3" cy="430.4" r="4.2"/>
<circle cx="418.6" cy="441.8" r="4.2"/>
<circle cx="438.1" cy="429.7" r="4.2"/>
<circle cx="389.6" cy="471.3" r="4.2"/>
<circle cx="471.9" cy="384.2" r="4.2"/>
<circle cx="565.6" cy="389.2" r="4.2"/>
<circle cx="450.6" cy="410.3" r="4.2"/>
<circle cx="452.8" cy="424.4" r="4.2"/>
<circle cx="601.9" cy="432.2" r="4.2"/>
<circle cx="619.2" cy="441.9" r="4.2"/>
<circle cx="567.8" cy="478.3" r="4.2"/>
<circle cx="452.8" cy="487.4" r="4.2"/>
<circle cx="489.4" cy="494.8" r="4.2"/>
<circle cx="663.8" cy="532.6" r="4.2"/>
<circle cx="494.3" cy="559.3" r="4.2"/>
<circle cx="449.4" cy="576.2" r="4.2"/>
<circle cx="632.9" cy="571.0" r="4.2"/>
<circle cx="766.7" cy="396.7" r="4.2"/>
<circle cx="751.6" cy="409.6" r="4.2"/>
<circle cx="800.0" cy="436.0" r="4.2"/>
<circle cx="784.4" cy="448.9" r="4.2"/>
<circle cx="787.1" cy="463.6" r="4.2"/>
<circle cx="713.8" cy="471.1" r="4.2"/>
<circle cx="764.7" cy="468.9" r="4.2"/>
<circle cx="785.8" cy="500.0" r="4.2"/>
<circle cx="358.9" cy="540.2" r="4.2"/>
<circle cx="351.4" cy="593.7" r="4.2"/>
<circle cx="400.0" cy="604.3" r="4.2"/>
<circle cx="396.9" cy="629.2" r="4.2"/>
<circle cx="465.3" cy="639.4" r="4.2"/>
<circle cx="415.6" cy="702.5" r="4.2"/>
<circle cx="597.5" cy="646.9" r="4.2"/>
<circle cx="721.0" cy="630.1" r="4.2"/>
<circle cx="701.1" cy="655.6" r="4.2"/>
<circle cx="846.4" cy="552.2" r="4.2"/>
<circle cx="880.3" cy="584.2" r="4.2"/>
<circle cx="767.8" cy="601.1" r="4.2"/>
<circle cx="804.4" cy="601.7" r="4.2"/>
<circle cx="735.6" cy="613.6" r="4.2"/>
<circle cx="756.4" cy="640.0" r="4.2"/>
<circle cx="810.0" cy="651.4" r="4.2"/>
<circle cx="836.1" cy="647.2" r="4.2"/>
<circle cx="890.6" cy="641.1" r="4.2"/>
<circle cx="942.1" cy="653.2" r="4.2"/>
<circle cx="749.4" cy="663.3" r="4.2"/>
<circle cx="854.4" cy="661.1" r="4.2"/>
<circle cx="865.8" cy="729.4" r="4.2"/>
<circle cx="957.2" cy="700.3" r="4.2"/>
</g>
<g fill="#f5a10a" stroke="#cc931f" stroke-width="1">
<circle cx="1030.3" cy="157.5" r="4.2"/>
<circle cx="1030.3" cy="194.8" r="8.2"/>
<circle cx="1030.3" cy="231.6" r="12.1"/>
<circle cx="1030.3" cy="271.7" r="15.6"/>
<circle cx="1030.3" cy="321.8" r="22.8"/>
</g>
<path d="M40.3,123.4 C40.5,124.4 41.3,125.9 42.2,127.0 C43.1,128.1 43.9,129.1 45.8,130.0 C47.6,130.9 50.8,132.5 53.3,132.7 C55.8,132.9 58.5,131.9 61.1,131.1 C63.7,130.3 66.3,129.0 68.9,128.0 C71.5,127.0 74.6,126.1 76.7,124.9 C78.8,123.7 80.3,122.3 81.3,121.0 C82.3,119.7 82.9,118.5 82.9,117.1 C82.9,115.7 82.3,113.4 81.3,112.4 C80.3,111.4 78.5,111.0 76.7,110.9 C74.9,110.8 72.4,111.2 70.4,111.7 C68.5,112.2 66.5,113.2 65.0,114.0 C63.5,114.8 62.5,115.6 61.1,116.3 C59.7,117.0 58.4,117.6 56.4,117.9 C54.4,118.2 51.5,118.1 49.4,118.3 C47.3,118.5 45.4,118.8 44.0,119.3 C42.6,119.8 41.8,120.3 41.2,121.0 C40.6,121.7 40.1,122.4 40.3,123.4Z" fill="none" stroke="#c6c6c6" stroke-width="1.3"/>
<path d="M40.3,155.9 C40.5,156.9 41.3,158.4 42.2,159.5 C43.1,160.6 43.9,161.6 45.8,162.5 C47.6,163.4 50.8,165.0 53.3,165.2 C55.8,165.4 58.5,164.4 61.1,163.6 C63.7,162.8 66.3,161.5 68.9,160.5 C71.5,159.5 74.6,158.6 76.7,157.4 C78.8,156.2 80.3,154.8 81.3,153.5 C82.3,152.2 82.9,151.0 82.9,149.6 C82.9,148.2 82.3,145.9 81.3,144.9 C80.3,143.9 78.5,143.5 76.7,143.4 C74.9,143.3 72.4,143.7 70.4,144.2 C68.5,144.7 66.5,145.7 65.0,146.5 C63.5,147.3 62.5,148.2 61.1,148.8 C59.7,149.5 58.4,150.1 56.4,150.4 C54.4,150.7 51.5,150.6 49.4,150.8 C47.3,151.0 45.4,151.4 44.0,151.8 C42.6,152.2 41.8,152.8 41.2,153.5 C40.6,154.2 40.1,154.9 40.3,155.9Z" fill="none" stroke="#a4a4a4" stroke-width="1.3"/>
<g fill="none" stroke="#999" stroke-width="1.6">
<path d="M919.5,853 V864.3 H1142.6 V853 M994,864.3 V857.8 M1067.7,864.3 V857.8"/>
</g>
<g id="legswatch">
<rect x="40" y="690" width="53" height="25" rx="1.5" fill="#d5e1ec"/>
<rect x="40" y="727" width="53" height="25" rx="1.5" fill="#99b9d3"/>
<rect x="40" y="765" width="53" height="25" rx="1.5" fill="#5e91b9"/>
<rect x="40" y="802" width="53" height="25" rx="1.5" fill="#226699"/>
<rect x="40" y="839.5" width="53" height="25" rx="1.5" fill="#073f86"/>
</g>
<text class="ti" x="37.6" y="34.0" style="font-size:20px" textLength="653.1" lengthAdjust="spacing">Obrázek 9: Zájem obcí o výstavbu bytů či rekonstrukci nebytových prostor</text>
<text class="lg" x="40.0" y="85.3" style="font-size:15.5px" textLength="173.2" lengthAdjust="spacing">Administrativní členění</text>
<text class="lg" x="93.6" y="127.8" style="font-size:14px" textLength="107.3" lengthAdjust="spacing">hranice SO ORP</text>
<text class="lg" x="93.6" y="160.0" style="font-size:14px" textLength="88.1" lengthAdjust="spacing">hranice kraje</text>
<text class="lg b" x="1003.4" y="87.0" style="font-size:15.5px">Zájem o rozšíření</text>
<text class="lg b" x="1003.4" y="107.9" style="font-size:15.5px" textLength="146.0" lengthAdjust="spacing">bytového fondu:</text>
<text class="lg b" x="1003.4" y="128.5" style="font-size:15.5px">počet bytů</text>
<text class="lg" x="1066.4" y="164.4" style="font-size:16px">≤ 70</text>
<text class="lg" x="1067.4" y="201.8" style="font-size:16px">71 – 300</text>
<text class="lg" x="1067.4" y="238.9" style="font-size:16px">301 – 600</text>
<text class="lg" x="1067.4" y="278.9" style="font-size:16px" textLength="90.4" lengthAdjust="spacing">601 - 1 600</text>
<text class="lg" x="1066.4" y="328.9" style="font-size:16px">> 1 600</text>
<text class="lg b" x="40.1" y="632.1" style="font-size:15.5px">Domácnosti v bytové</text>
<text class="lg b" x="40.1" y="653.6" style="font-size:15.5px">nouzi na 1 tis.</text>
<text class="lg b" x="40.1" y="673.8" style="font-size:15.5px">domácností</text>
<text class="lg" x="102.9" y="709.7" style="font-size:16px">≤ 7</text>
<text class="lg" x="103.9" y="747.1" style="font-size:16px" textLength="96.3" lengthAdjust="spacing">7,01 – 10,00</text>
<text class="lg" x="102.9" y="783.7" style="font-size:16px">10,01 – 15,00</text>
<text class="lg" x="102.9" y="820.7" style="font-size:16px">15,01 – 25,00</text>
<text class="lg" x="102.9" y="857.7" style="font-size:16px">> 25,00</text>
<text class="sc" x="915.2" y="846.8" style="font-size:14px">0</text>
<text class="sc" x="1022.2" y="846.8" style="font-size:14px">50</text>
<text class="sc" x="1128.9" y="846.8" style="font-size:14px">100</text>
<text class="sc" x="1161.5" y="846.8" style="font-size:14px">Km</text>
</svg>
</body></html>
